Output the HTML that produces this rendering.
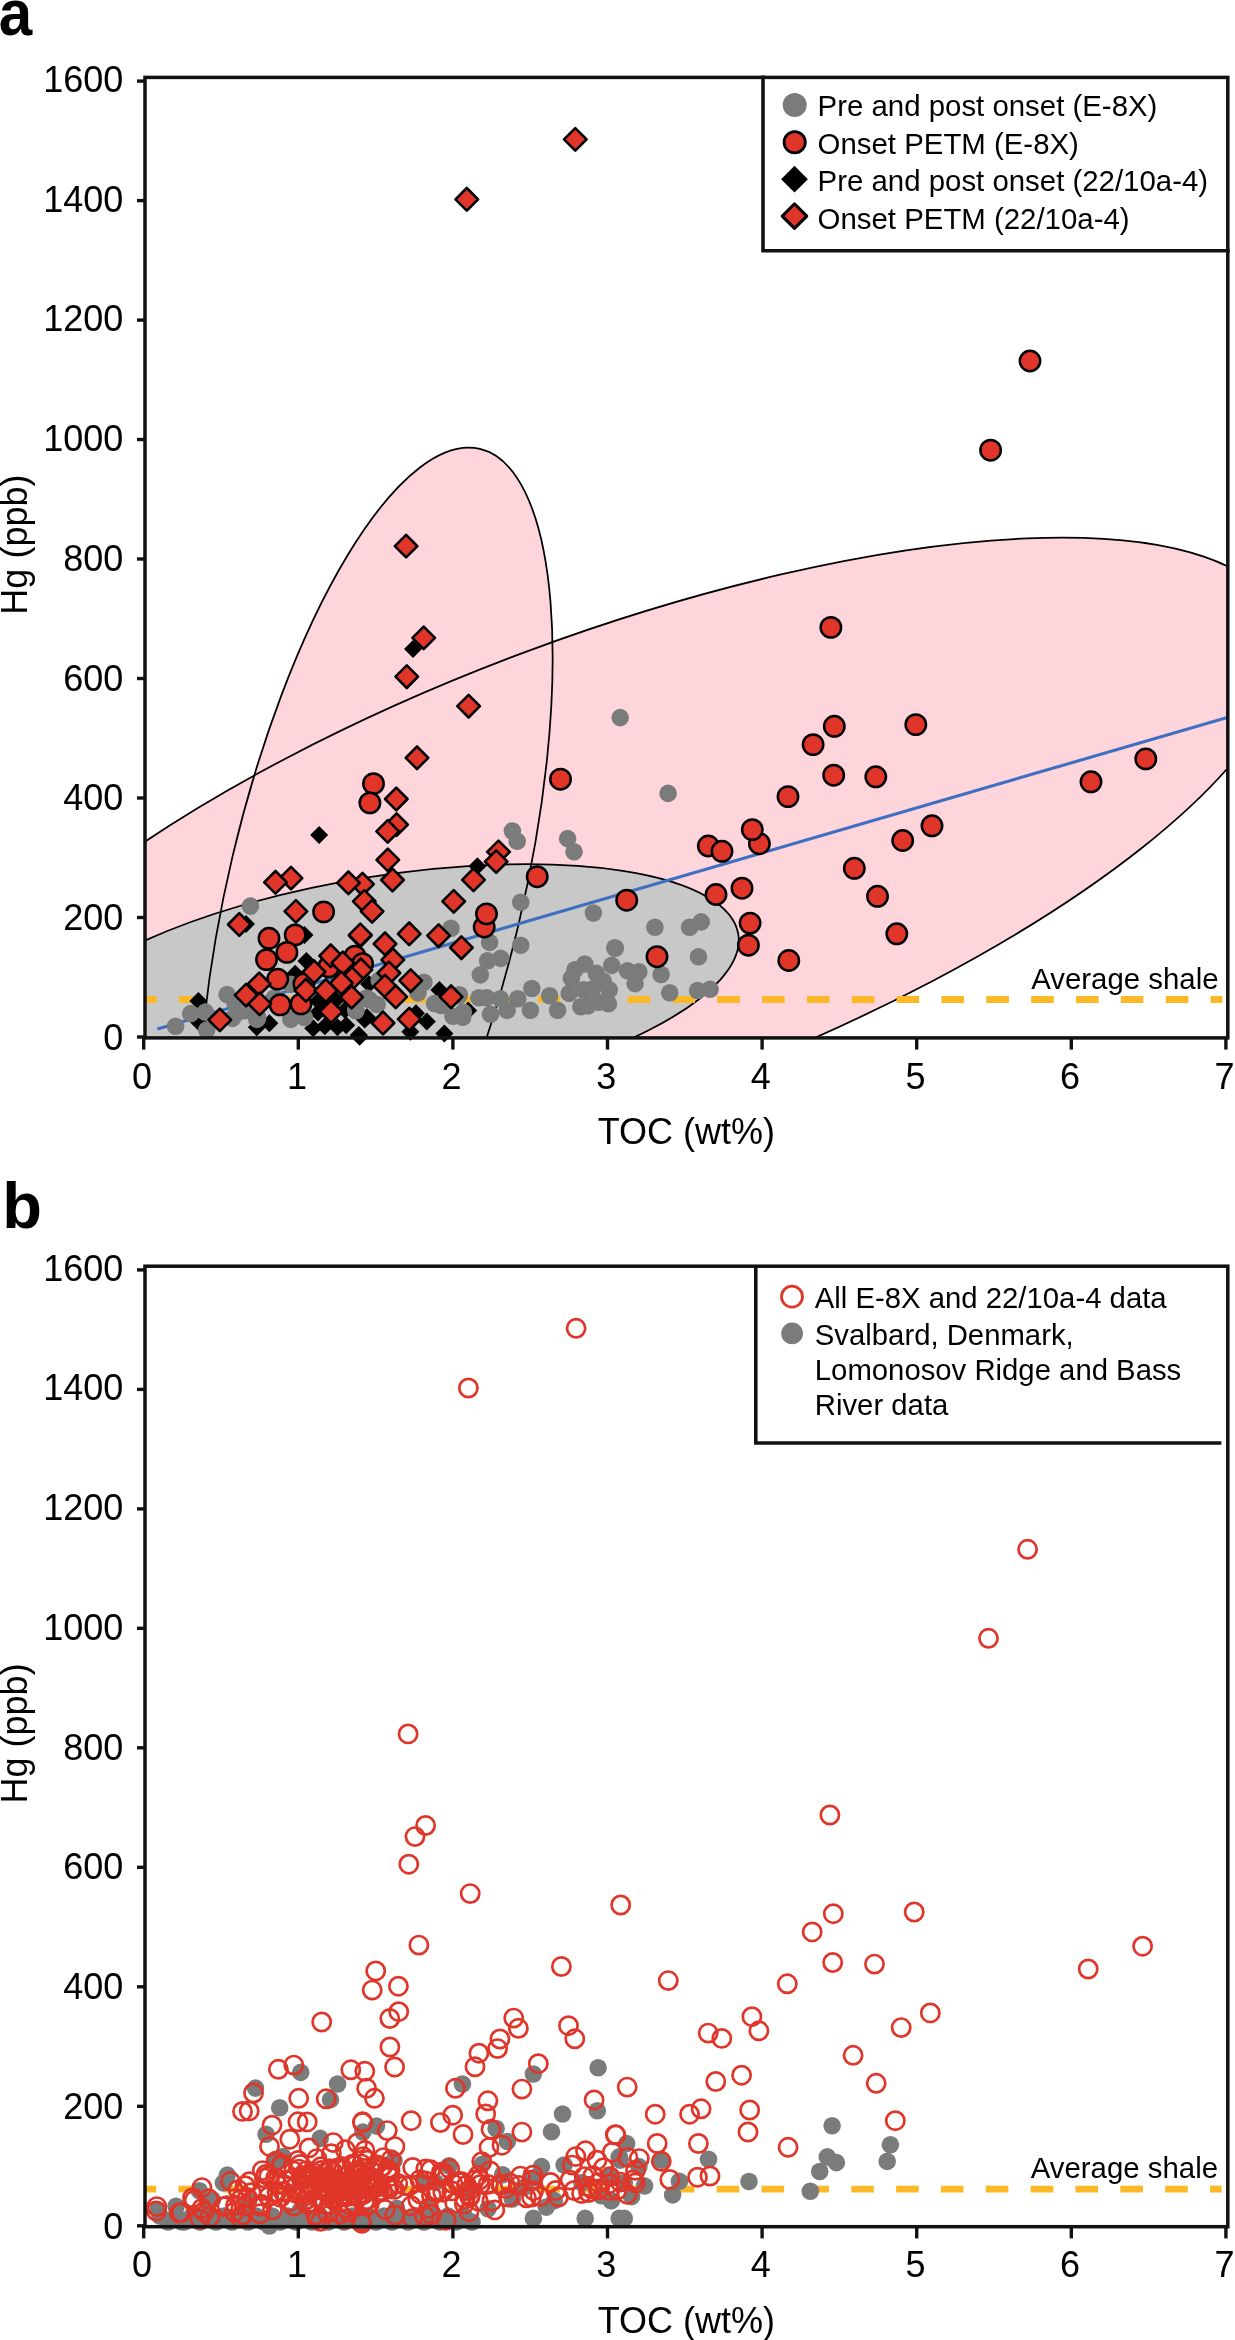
<!DOCTYPE html><html><head><meta charset="utf-8"><style>html,body{margin:0;padding:0;background:#fff;width:1235px;height:2340px;overflow:hidden}svg{display:block}text{font-family:"Liberation Sans",sans-serif}svg{will-change:transform}</style></head><body>
<svg width="1235" height="2340" viewBox="0 0 1235 2340">
<defs>
<clipPath id="ca"><rect x="145" y="77.4" width="1082.8" height="960.5"/></clipPath>
<clipPath id="cb"><rect x="145" y="1266.2" width="1082.8" height="960.5"/></clipPath>
</defs>
<g clip-path="url(#ca)">
<ellipse cx="609.0" cy="869.8" rx="717.6" ry="233.3" transform="rotate(159.62 609.0 869.8)" fill="#ffd5dc"/>
<ellipse cx="375.6" cy="890.2" rx="453.4" ry="147" transform="rotate(-76.7 375.6 890.2)" fill="#ffd5dc"/>
<ellipse cx="387.3" cy="990" rx="355.4" ry="114.3" transform="rotate(171 387.3 990)" fill="#c8c8c8"/>
<ellipse cx="609.0" cy="869.8" rx="717.6" ry="233.3" transform="rotate(159.62 609.0 869.8)" fill="none" stroke="#000" stroke-width="1.75"/>
<ellipse cx="375.6" cy="890.2" rx="453.4" ry="147" transform="rotate(-76.7 375.6 890.2)" fill="none" stroke="#000" stroke-width="1.75"/>
<ellipse cx="387.3" cy="990" rx="355.4" ry="114.3" transform="rotate(171 387.3 990)" fill="none" stroke="#000" stroke-width="1.75"/>
<line x1="134.15" y1="999.5" x2="1222.4" y2="999.5" stroke="#fbb927" stroke-width="6.8" stroke-dasharray="22.6 22.25"/>
<line x1="157.4" y1="1029" x2="1226.4" y2="717.7" stroke="#3f6fc0" stroke-width="3.1"/>
</g>
<text x="1218.6" y="988.5" font-size="29.4" text-anchor="end">Average shale</text>
<path d="M319.1 825.9L328.1 834.9L319.1 843.9L310.1 834.9Z" fill="#000"/>
<path d="M413.0 640.0L422.0 649.0L413.0 658.0L404.0 649.0Z" fill="#000"/>
<path d="M246.0 915.0L255.0 924.0L246.0 933.0L237.0 924.0Z" fill="#000"/>
<path d="M304.5 926.0L313.5 935.0L304.5 944.0L295.5 935.0Z" fill="#000"/>
<path d="M477.4 857.2L486.4 866.2L477.4 875.2L468.4 866.2Z" fill="#000"/>
<path d="M198.4 991.9L207.4 1000.9L198.4 1009.9L189.4 1000.9Z" fill="#000"/>
<path d="M198.4 1012.8L207.4 1021.8L198.4 1030.8L189.4 1021.8Z" fill="#000"/>
<path d="M256.8 1018.2L265.8 1027.2L256.8 1036.2L247.8 1027.2Z" fill="#000"/>
<path d="M306.4 952.1L315.4 961.1L306.4 970.1L297.4 961.1Z" fill="#000"/>
<path d="M295.2 964.7L304.2 973.7L295.2 982.7L286.2 973.7Z" fill="#000"/>
<path d="M269.4 1014.3L278.4 1023.3L269.4 1032.3L260.4 1023.3Z" fill="#000"/>
<path d="M313.2 1019.2L322.2 1028.2L313.2 1037.2L304.2 1028.2Z" fill="#000"/>
<path d="M324.8 1017.2L333.8 1026.2L324.8 1035.2L315.8 1026.2Z" fill="#000"/>
<path d="M346.2 1016.2L355.2 1025.2L346.2 1034.2L337.2 1025.2Z" fill="#000"/>
<path d="M358.8 1026.0L367.8 1035.0L358.8 1044.0L349.8 1035.0Z" fill="#000"/>
<path d="M337.5 1018.2L346.5 1027.2L337.5 1036.2L328.5 1027.2Z" fill="#000"/>
<path d="M364.7 1010.4L373.7 1019.4L364.7 1028.4L355.7 1019.4Z" fill="#000"/>
<path d="M318.0 1003.6L327.0 1012.6L318.0 1021.6L309.0 1012.6Z" fill="#000"/>
<path d="M369.0 975.1L378.0 984.1L369.0 993.1L360.0 984.1Z" fill="#000"/>
<path d="M439.4 981.0L448.4 990.0L439.4 999.0L430.4 990.0Z" fill="#000"/>
<path d="M426.8 1012.6L435.8 1021.6L426.8 1030.6L417.8 1021.6Z" fill="#000"/>
<path d="M410.3 1022.8L419.3 1031.8L410.3 1040.8L401.3 1031.8Z" fill="#000"/>
<path d="M444.4 1024.6L453.4 1033.6L444.4 1042.6L435.4 1033.6Z" fill="#000"/>
<path d="M325.0 995.0L334.0 1004.0L325.0 1013.0L316.0 1004.0Z" fill="#000"/>
<path d="M336.0 991.0L345.0 1000.0L336.0 1009.0L327.0 1000.0Z" fill="#000"/>
<path d="M318.0 992.0L327.0 1001.0L318.0 1010.0L309.0 1001.0Z" fill="#000"/>
<path d="M345.0 1001.0L354.0 1010.0L345.0 1019.0L336.0 1010.0Z" fill="#000"/>
<path d="M359.6 1027.8L368.6 1036.8L359.6 1045.8L350.6 1036.8Z" fill="#000"/>
<path d="M367.0 1008.2L376.0 1017.2L367.0 1026.2L358.0 1017.2Z" fill="#000"/>
<path d="M416.0 1004.3L425.0 1013.3L416.0 1022.3L407.0 1013.3Z" fill="#000"/>
<path d="M468.2 1001.4L477.2 1010.4L468.2 1019.4L459.2 1010.4Z" fill="#000"/>
<circle cx="620.2" cy="717.6" r="8.8" fill="#7a7c7b"/>
<circle cx="668.1" cy="793.4" r="8.8" fill="#7a7c7b"/>
<circle cx="567.6" cy="838.6" r="8.8" fill="#7a7c7b"/>
<circle cx="574.0" cy="851.7" r="8.8" fill="#7a7c7b"/>
<circle cx="593.4" cy="913.0" r="8.8" fill="#7a7c7b"/>
<circle cx="654.9" cy="927.3" r="8.8" fill="#7a7c7b"/>
<circle cx="689.6" cy="927.3" r="8.8" fill="#7a7c7b"/>
<circle cx="701.2" cy="921.9" r="8.8" fill="#7a7c7b"/>
<circle cx="614.8" cy="947.8" r="8.8" fill="#7a7c7b"/>
<circle cx="698.5" cy="956.7" r="8.8" fill="#7a7c7b"/>
<circle cx="669.7" cy="992.8" r="8.8" fill="#7a7c7b"/>
<circle cx="697.6" cy="990.5" r="8.8" fill="#7a7c7b"/>
<circle cx="710.1" cy="989.3" r="8.8" fill="#7a7c7b"/>
<circle cx="661.1" cy="974.5" r="8.8" fill="#7a7c7b"/>
<circle cx="615.3" cy="948.2" r="8.8" fill="#7a7c7b"/>
<circle cx="611.7" cy="965.4" r="8.8" fill="#7a7c7b"/>
<circle cx="627.5" cy="970.7" r="8.8" fill="#7a7c7b"/>
<circle cx="635.1" cy="983.6" r="8.8" fill="#7a7c7b"/>
<circle cx="638.9" cy="971.8" r="8.8" fill="#7a7c7b"/>
<circle cx="584.8" cy="964.0" r="8.8" fill="#7a7c7b"/>
<circle cx="575.0" cy="969.8" r="8.8" fill="#7a7c7b"/>
<circle cx="596.3" cy="973.4" r="8.8" fill="#7a7c7b"/>
<circle cx="571.4" cy="978.3" r="8.8" fill="#7a7c7b"/>
<circle cx="603.0" cy="981.0" r="8.8" fill="#7a7c7b"/>
<circle cx="609.3" cy="989.9" r="8.8" fill="#7a7c7b"/>
<circle cx="569.2" cy="993.4" r="8.8" fill="#7a7c7b"/>
<circle cx="549.6" cy="995.7" r="8.8" fill="#7a7c7b"/>
<circle cx="557.6" cy="1010.3" r="8.8" fill="#7a7c7b"/>
<circle cx="580.8" cy="1006.8" r="8.8" fill="#7a7c7b"/>
<circle cx="587.9" cy="1005.9" r="8.8" fill="#7a7c7b"/>
<circle cx="598.6" cy="1002.3" r="8.8" fill="#7a7c7b"/>
<circle cx="608.4" cy="1003.7" r="8.8" fill="#7a7c7b"/>
<circle cx="531.8" cy="988.5" r="8.8" fill="#7a7c7b"/>
<circle cx="530.4" cy="1010.3" r="8.8" fill="#7a7c7b"/>
<circle cx="583.4" cy="989.9" r="8.8" fill="#7a7c7b"/>
<circle cx="592.3" cy="989.0" r="8.8" fill="#7a7c7b"/>
<circle cx="512.4" cy="831.0" r="8.8" fill="#7a7c7b"/>
<circle cx="517.2" cy="841.2" r="8.8" fill="#7a7c7b"/>
<circle cx="250.4" cy="906.1" r="8.8" fill="#7a7c7b"/>
<circle cx="520.7" cy="902.2" r="8.8" fill="#7a7c7b"/>
<circle cx="451.0" cy="928.3" r="8.8" fill="#7a7c7b"/>
<circle cx="175.6" cy="1026.2" r="8.8" fill="#7a7c7b"/>
<circle cx="235.0" cy="1003.0" r="8.8" fill="#7a7c7b"/>
<circle cx="242.0" cy="999.0" r="8.8" fill="#7a7c7b"/>
<circle cx="248.0" cy="1006.0" r="8.8" fill="#7a7c7b"/>
<circle cx="238.0" cy="1012.0" r="8.8" fill="#7a7c7b"/>
<circle cx="190.7" cy="1013.6" r="8.8" fill="#7a7c7b"/>
<circle cx="205.3" cy="1012.1" r="8.8" fill="#7a7c7b"/>
<circle cx="206.7" cy="1030.1" r="8.8" fill="#7a7c7b"/>
<circle cx="227.1" cy="994.6" r="8.8" fill="#7a7c7b"/>
<circle cx="232.5" cy="1018.4" r="8.8" fill="#7a7c7b"/>
<circle cx="244.1" cy="1010.7" r="8.8" fill="#7a7c7b"/>
<circle cx="256.8" cy="1019.4" r="8.8" fill="#7a7c7b"/>
<circle cx="257.8" cy="1017.5" r="8.8" fill="#7a7c7b"/>
<circle cx="290.8" cy="1019.4" r="8.8" fill="#7a7c7b"/>
<circle cx="304.4" cy="1017.5" r="8.8" fill="#7a7c7b"/>
<circle cx="355.9" cy="1010.7" r="8.8" fill="#7a7c7b"/>
<circle cx="366.6" cy="998.0" r="8.8" fill="#7a7c7b"/>
<circle cx="290.8" cy="984.4" r="8.8" fill="#7a7c7b"/>
<circle cx="274.3" cy="998.0" r="8.8" fill="#7a7c7b"/>
<circle cx="423.9" cy="982.2" r="8.8" fill="#7a7c7b"/>
<circle cx="418.0" cy="992.9" r="8.8" fill="#7a7c7b"/>
<circle cx="434.5" cy="1003.6" r="8.8" fill="#7a7c7b"/>
<circle cx="458.8" cy="995.8" r="8.8" fill="#7a7c7b"/>
<circle cx="453.0" cy="1016.2" r="8.8" fill="#7a7c7b"/>
<circle cx="462.7" cy="1017.2" r="8.8" fill="#7a7c7b"/>
<circle cx="369.4" cy="999.7" r="8.8" fill="#7a7c7b"/>
<circle cx="377.2" cy="1004.5" r="8.8" fill="#7a7c7b"/>
<circle cx="355.8" cy="1009.4" r="8.8" fill="#7a7c7b"/>
<circle cx="379.2" cy="980.3" r="8.8" fill="#7a7c7b"/>
<circle cx="489.6" cy="942.4" r="8.8" fill="#7a7c7b"/>
<circle cx="520.7" cy="945.3" r="8.8" fill="#7a7c7b"/>
<circle cx="487.6" cy="960.8" r="8.8" fill="#7a7c7b"/>
<circle cx="500.7" cy="958.4" r="8.8" fill="#7a7c7b"/>
<circle cx="480.3" cy="974.9" r="8.8" fill="#7a7c7b"/>
<circle cx="459.4" cy="994.8" r="8.8" fill="#7a7c7b"/>
<circle cx="478.9" cy="997.7" r="8.8" fill="#7a7c7b"/>
<circle cx="486.6" cy="997.7" r="8.8" fill="#7a7c7b"/>
<circle cx="500.3" cy="998.7" r="8.8" fill="#7a7c7b"/>
<circle cx="517.7" cy="998.7" r="8.8" fill="#7a7c7b"/>
<circle cx="490.5" cy="1014.3" r="8.8" fill="#7a7c7b"/>
<circle cx="507.1" cy="1010.4" r="8.8" fill="#7a7c7b"/>
<circle cx="463.3" cy="1012.3" r="8.8" fill="#7a7c7b"/>
<circle cx="441.0" cy="1005.5" r="8.8" fill="#7a7c7b"/>
<circle cx="1030.0" cy="361.0" r="10.2" fill="#e0362a" stroke="#000" stroke-width="2.5"/>
<circle cx="990.6" cy="450.2" r="10.2" fill="#e0362a" stroke="#000" stroke-width="2.5"/>
<circle cx="560.5" cy="779.2" r="10.2" fill="#e0362a" stroke="#000" stroke-width="2.5"/>
<circle cx="708.3" cy="846.0" r="10.2" fill="#e0362a" stroke="#000" stroke-width="2.5"/>
<circle cx="722.0" cy="851.3" r="10.2" fill="#e0362a" stroke="#000" stroke-width="2.5"/>
<circle cx="759.4" cy="843.7" r="10.2" fill="#e0362a" stroke="#000" stroke-width="2.5"/>
<circle cx="752.3" cy="829.6" r="10.2" fill="#e0362a" stroke="#000" stroke-width="2.5"/>
<circle cx="626.7" cy="900.2" r="10.2" fill="#e0362a" stroke="#000" stroke-width="2.5"/>
<circle cx="716.0" cy="894.5" r="10.2" fill="#e0362a" stroke="#000" stroke-width="2.5"/>
<circle cx="742.0" cy="888.2" r="10.2" fill="#e0362a" stroke="#000" stroke-width="2.5"/>
<circle cx="830.9" cy="627.4" r="10.2" fill="#e0362a" stroke="#000" stroke-width="2.5"/>
<circle cx="834.3" cy="726.3" r="10.2" fill="#e0362a" stroke="#000" stroke-width="2.5"/>
<circle cx="915.8" cy="724.6" r="10.2" fill="#e0362a" stroke="#000" stroke-width="2.5"/>
<circle cx="813.1" cy="744.6" r="10.2" fill="#e0362a" stroke="#000" stroke-width="2.5"/>
<circle cx="833.7" cy="775.2" r="10.2" fill="#e0362a" stroke="#000" stroke-width="2.5"/>
<circle cx="875.8" cy="776.8" r="10.2" fill="#e0362a" stroke="#000" stroke-width="2.5"/>
<circle cx="788.0" cy="796.6" r="10.2" fill="#e0362a" stroke="#000" stroke-width="2.5"/>
<circle cx="932.0" cy="825.8" r="10.2" fill="#e0362a" stroke="#000" stroke-width="2.5"/>
<circle cx="902.7" cy="840.5" r="10.2" fill="#e0362a" stroke="#000" stroke-width="2.5"/>
<circle cx="854.3" cy="868.3" r="10.2" fill="#e0362a" stroke="#000" stroke-width="2.5"/>
<circle cx="877.5" cy="896.3" r="10.2" fill="#e0362a" stroke="#000" stroke-width="2.5"/>
<circle cx="896.8" cy="933.8" r="10.2" fill="#e0362a" stroke="#000" stroke-width="2.5"/>
<circle cx="750.1" cy="923.1" r="10.2" fill="#e0362a" stroke="#000" stroke-width="2.5"/>
<circle cx="748.4" cy="945.2" r="10.2" fill="#e0362a" stroke="#000" stroke-width="2.5"/>
<circle cx="788.8" cy="960.5" r="10.2" fill="#e0362a" stroke="#000" stroke-width="2.5"/>
<circle cx="1091.0" cy="781.8" r="10.2" fill="#e0362a" stroke="#000" stroke-width="2.5"/>
<circle cx="1145.8" cy="758.9" r="10.2" fill="#e0362a" stroke="#000" stroke-width="2.5"/>
<circle cx="657.0" cy="956.7" r="10.2" fill="#e0362a" stroke="#000" stroke-width="2.5"/>
<circle cx="373.5" cy="783.7" r="10.2" fill="#e0362a" stroke="#000" stroke-width="2.5"/>
<circle cx="369.9" cy="802.9" r="10.2" fill="#e0362a" stroke="#000" stroke-width="2.5"/>
<circle cx="323.6" cy="911.9" r="10.2" fill="#e0362a" stroke="#000" stroke-width="2.5"/>
<circle cx="537.2" cy="876.7" r="10.2" fill="#e0362a" stroke="#000" stroke-width="2.5"/>
<circle cx="484.2" cy="927.0" r="10.2" fill="#e0362a" stroke="#000" stroke-width="2.5"/>
<circle cx="486.5" cy="913.9" r="10.2" fill="#e0362a" stroke="#000" stroke-width="2.5"/>
<circle cx="303.9" cy="983.9" r="10.2" fill="#e0362a" stroke="#000" stroke-width="2.5"/>
<circle cx="269.0" cy="938.3" r="10.2" fill="#e0362a" stroke="#000" stroke-width="2.5"/>
<circle cx="295.2" cy="934.9" r="10.2" fill="#e0362a" stroke="#000" stroke-width="2.5"/>
<circle cx="286.9" cy="952.4" r="10.2" fill="#e0362a" stroke="#000" stroke-width="2.5"/>
<circle cx="266.5" cy="959.6" r="10.2" fill="#e0362a" stroke="#000" stroke-width="2.5"/>
<circle cx="277.7" cy="979.1" r="10.2" fill="#e0362a" stroke="#000" stroke-width="2.5"/>
<circle cx="280.1" cy="1004.8" r="10.2" fill="#e0362a" stroke="#000" stroke-width="2.5"/>
<circle cx="301.0" cy="1003.9" r="10.2" fill="#e0362a" stroke="#000" stroke-width="2.5"/>
<circle cx="328.7" cy="966.9" r="10.2" fill="#e0362a" stroke="#000" stroke-width="2.5"/>
<circle cx="355.0" cy="956.2" r="10.2" fill="#e0362a" stroke="#000" stroke-width="2.5"/>
<circle cx="362.6" cy="963.7" r="10.2" fill="#e0362a" stroke="#000" stroke-width="2.5"/>
<path d="M575.3 128.1L586.6 139.4L575.3 150.7L564.0 139.4Z" fill="#e0362a" stroke="#000" stroke-width="2.6" stroke-linejoin="round"/>
<path d="M466.8 188.0L478.1 199.3L466.8 210.6L455.5 199.3Z" fill="#e0362a" stroke="#000" stroke-width="2.6" stroke-linejoin="round"/>
<path d="M406.1 534.8L417.4 546.1L406.1 557.4L394.8 546.1Z" fill="#e0362a" stroke="#000" stroke-width="2.6" stroke-linejoin="round"/>
<path d="M423.7 626.6L435.0 637.9L423.7 649.2L412.4 637.9Z" fill="#e0362a" stroke="#000" stroke-width="2.6" stroke-linejoin="round"/>
<path d="M406.8 665.4L418.1 676.7L406.8 688.0L395.5 676.7Z" fill="#e0362a" stroke="#000" stroke-width="2.6" stroke-linejoin="round"/>
<path d="M468.6 694.9L479.9 706.2L468.6 717.5L457.3 706.2Z" fill="#e0362a" stroke="#000" stroke-width="2.6" stroke-linejoin="round"/>
<path d="M417.0 746.5L428.3 757.8L417.0 769.1L405.7 757.8Z" fill="#e0362a" stroke="#000" stroke-width="2.6" stroke-linejoin="round"/>
<path d="M396.3 787.7L407.6 799.0L396.3 810.3L385.0 799.0Z" fill="#e0362a" stroke="#000" stroke-width="2.6" stroke-linejoin="round"/>
<path d="M396.6 813.3L407.9 824.6L396.6 835.9L385.3 824.6Z" fill="#e0362a" stroke="#000" stroke-width="2.6" stroke-linejoin="round"/>
<path d="M387.7 820.1L399.0 831.4L387.7 842.7L376.4 831.4Z" fill="#e0362a" stroke="#000" stroke-width="2.6" stroke-linejoin="round"/>
<path d="M498.5 840.6L509.8 851.9L498.5 863.2L487.2 851.9Z" fill="#e0362a" stroke="#000" stroke-width="2.6" stroke-linejoin="round"/>
<path d="M239.3 913.2L250.6 924.5L239.3 935.8L228.0 924.5Z" fill="#e0362a" stroke="#000" stroke-width="2.6" stroke-linejoin="round"/>
<path d="M291.0 866.8L302.3 878.1L291.0 889.4L279.7 878.1Z" fill="#e0362a" stroke="#000" stroke-width="2.6" stroke-linejoin="round"/>
<path d="M275.5 871.0L286.8 882.3L275.5 893.6L264.2 882.3Z" fill="#e0362a" stroke="#000" stroke-width="2.6" stroke-linejoin="round"/>
<path d="M295.9 900.1L307.2 911.4L295.9 922.7L284.6 911.4Z" fill="#e0362a" stroke="#000" stroke-width="2.6" stroke-linejoin="round"/>
<path d="M387.8 848.6L399.1 859.9L387.8 871.2L376.5 859.9Z" fill="#e0362a" stroke="#000" stroke-width="2.6" stroke-linejoin="round"/>
<path d="M392.5 868.7L403.8 880.0L392.5 891.3L381.2 880.0Z" fill="#e0362a" stroke="#000" stroke-width="2.6" stroke-linejoin="round"/>
<path d="M362.5 872.9L373.8 884.2L362.5 895.5L351.2 884.2Z" fill="#e0362a" stroke="#000" stroke-width="2.6" stroke-linejoin="round"/>
<path d="M348.4 871.5L359.7 882.8L348.4 894.1L337.1 882.8Z" fill="#e0362a" stroke="#000" stroke-width="2.6" stroke-linejoin="round"/>
<path d="M364.3 890.1L375.6 901.4L364.3 912.7L353.0 901.4Z" fill="#e0362a" stroke="#000" stroke-width="2.6" stroke-linejoin="round"/>
<path d="M372.1 900.1L383.4 911.4L372.1 922.7L360.8 911.4Z" fill="#e0362a" stroke="#000" stroke-width="2.6" stroke-linejoin="round"/>
<path d="M453.7 890.1L465.0 901.4L453.7 912.7L442.4 901.4Z" fill="#e0362a" stroke="#000" stroke-width="2.6" stroke-linejoin="round"/>
<path d="M360.2 924.4L371.5 935.7L360.2 947.0L348.9 935.7Z" fill="#e0362a" stroke="#000" stroke-width="2.6" stroke-linejoin="round"/>
<path d="M409.2 922.5L420.5 933.8L409.2 945.1L397.9 933.8Z" fill="#e0362a" stroke="#000" stroke-width="2.6" stroke-linejoin="round"/>
<path d="M438.6 924.4L449.9 935.7L438.6 947.0L427.3 935.7Z" fill="#e0362a" stroke="#000" stroke-width="2.6" stroke-linejoin="round"/>
<path d="M496.2 850.3L507.5 861.6L496.2 872.9L484.9 861.6Z" fill="#e0362a" stroke="#000" stroke-width="2.6" stroke-linejoin="round"/>
<path d="M473.5 868.5L484.8 879.8L473.5 891.1L462.2 879.8Z" fill="#e0362a" stroke="#000" stroke-width="2.6" stroke-linejoin="round"/>
<path d="M461.4 936.4L472.7 947.7L461.4 959.0L450.1 947.7Z" fill="#e0362a" stroke="#000" stroke-width="2.6" stroke-linejoin="round"/>
<path d="M219.8 1008.6L231.1 1019.9L219.8 1031.2L208.5 1019.9Z" fill="#e0362a" stroke="#000" stroke-width="2.6" stroke-linejoin="round"/>
<path d="M246.1 983.8L257.4 995.1L246.1 1006.4L234.8 995.1Z" fill="#e0362a" stroke="#000" stroke-width="2.6" stroke-linejoin="round"/>
<path d="M259.2 972.6L270.5 983.9L259.2 995.2L247.9 983.9Z" fill="#e0362a" stroke="#000" stroke-width="2.6" stroke-linejoin="round"/>
<path d="M259.7 992.6L271.0 1003.9L259.7 1015.2L248.4 1003.9Z" fill="#e0362a" stroke="#000" stroke-width="2.6" stroke-linejoin="round"/>
<path d="M360.3 923.6L371.6 934.9L360.3 946.2L349.0 934.9Z" fill="#e0362a" stroke="#000" stroke-width="2.6" stroke-linejoin="round"/>
<path d="M314.1 960.5L325.4 971.8L314.1 983.1L302.8 971.8Z" fill="#e0362a" stroke="#000" stroke-width="2.6" stroke-linejoin="round"/>
<path d="M305.9 979.0L317.2 990.3L305.9 1001.6L294.6 990.3Z" fill="#e0362a" stroke="#000" stroke-width="2.6" stroke-linejoin="round"/>
<path d="M330.7 944.5L342.0 955.8L330.7 967.1L319.4 955.8Z" fill="#e0362a" stroke="#000" stroke-width="2.6" stroke-linejoin="round"/>
<path d="M342.8 951.7L354.1 963.0L342.8 974.3L331.5 963.0Z" fill="#e0362a" stroke="#000" stroke-width="2.6" stroke-linejoin="round"/>
<path d="M360.8 958.5L372.1 969.8L360.8 981.1L349.5 969.8Z" fill="#e0362a" stroke="#000" stroke-width="2.6" stroke-linejoin="round"/>
<path d="M325.8 979.4L337.1 990.7L325.8 1002.0L314.5 990.7Z" fill="#e0362a" stroke="#000" stroke-width="2.6" stroke-linejoin="round"/>
<path d="M352.0 967.3L363.3 978.6L352.0 989.9L340.7 978.6Z" fill="#e0362a" stroke="#000" stroke-width="2.6" stroke-linejoin="round"/>
<path d="M341.4 971.7L352.7 983.0L341.4 994.3L330.1 983.0Z" fill="#e0362a" stroke="#000" stroke-width="2.6" stroke-linejoin="round"/>
<path d="M351.6 985.8L362.9 997.1L351.6 1008.4L340.3 997.1Z" fill="#e0362a" stroke="#000" stroke-width="2.6" stroke-linejoin="round"/>
<path d="M331.1 1000.3L342.4 1011.6L331.1 1022.9L319.8 1011.6Z" fill="#e0362a" stroke="#000" stroke-width="2.6" stroke-linejoin="round"/>
<path d="M385.0 932.5L396.3 943.8L385.0 955.1L373.7 943.8Z" fill="#e0362a" stroke="#000" stroke-width="2.6" stroke-linejoin="round"/>
<path d="M392.8 948.5L404.1 959.8L392.8 971.1L381.5 959.8Z" fill="#e0362a" stroke="#000" stroke-width="2.6" stroke-linejoin="round"/>
<path d="M388.9 961.7L400.2 973.0L388.9 984.3L377.6 973.0Z" fill="#e0362a" stroke="#000" stroke-width="2.6" stroke-linejoin="round"/>
<path d="M410.7 969.4L422.0 980.7L410.7 992.0L399.4 980.7Z" fill="#e0362a" stroke="#000" stroke-width="2.6" stroke-linejoin="round"/>
<path d="M385.0 974.8L396.3 986.1L385.0 997.4L373.7 986.1Z" fill="#e0362a" stroke="#000" stroke-width="2.6" stroke-linejoin="round"/>
<path d="M395.7 985.5L407.0 996.8L395.7 1008.1L384.4 996.8Z" fill="#e0362a" stroke="#000" stroke-width="2.6" stroke-linejoin="round"/>
<path d="M451.1 985.5L462.4 996.8L451.1 1008.1L439.8 996.8Z" fill="#e0362a" stroke="#000" stroke-width="2.6" stroke-linejoin="round"/>
<path d="M409.3 1007.8L420.6 1019.1L409.3 1030.4L398.0 1019.1Z" fill="#e0362a" stroke="#000" stroke-width="2.6" stroke-linejoin="round"/>
<path d="M383.0 1011.7L394.3 1023.0L383.0 1034.3L371.7 1023.0Z" fill="#e0362a" stroke="#000" stroke-width="2.6" stroke-linejoin="round"/>
<line x1="137" y1="1037.0" x2="145" y2="1037.0" stroke="#111" stroke-width="3.4"/>
<text x="123.3" y="1050.0" font-size="36" text-anchor="end">0</text>
<line x1="137" y1="917.5" x2="145" y2="917.5" stroke="#111" stroke-width="3.4"/>
<text x="123.3" y="930.2" font-size="36" text-anchor="end">200</text>
<line x1="137" y1="798.0" x2="145" y2="798.0" stroke="#111" stroke-width="3.4"/>
<text x="123.3" y="810.4" font-size="36" text-anchor="end">400</text>
<line x1="137" y1="678.5" x2="145" y2="678.5" stroke="#111" stroke-width="3.4"/>
<text x="123.3" y="690.6" font-size="36" text-anchor="end">600</text>
<line x1="137" y1="559.0" x2="145" y2="559.0" stroke="#111" stroke-width="3.4"/>
<text x="123.3" y="570.8" font-size="36" text-anchor="end">800</text>
<line x1="137" y1="439.5" x2="145" y2="439.5" stroke="#111" stroke-width="3.4"/>
<text x="123.3" y="451.0" font-size="36" text-anchor="end">1000</text>
<line x1="137" y1="320.1" x2="145" y2="320.1" stroke="#111" stroke-width="3.4"/>
<text x="123.3" y="331.3" font-size="36" text-anchor="end">1200</text>
<line x1="137" y1="200.6" x2="145" y2="200.6" stroke="#111" stroke-width="3.4"/>
<text x="123.3" y="211.5" font-size="36" text-anchor="end">1400</text>
<line x1="137" y1="81.1" x2="145" y2="81.1" stroke="#111" stroke-width="3.4"/>
<text x="123.3" y="91.7" font-size="36" text-anchor="end">1600</text>
<line x1="143.7" y1="1037.9" x2="143.7" y2="1049.6" stroke="#111" stroke-width="3.4"/>
<text x="141.9" y="1088.6" font-size="36" text-anchor="middle">0</text>
<line x1="298.3" y1="1037.9" x2="298.3" y2="1049.6" stroke="#111" stroke-width="3.4"/>
<text x="297.0" y="1088.6" font-size="36" text-anchor="middle">1</text>
<line x1="452.9" y1="1037.9" x2="452.9" y2="1049.6" stroke="#111" stroke-width="3.4"/>
<text x="451.6" y="1088.6" font-size="36" text-anchor="middle">2</text>
<line x1="607.5" y1="1037.9" x2="607.5" y2="1049.6" stroke="#111" stroke-width="3.4"/>
<text x="606.2" y="1088.6" font-size="36" text-anchor="middle">3</text>
<line x1="762.1" y1="1037.9" x2="762.1" y2="1049.6" stroke="#111" stroke-width="3.4"/>
<text x="760.8" y="1088.6" font-size="36" text-anchor="middle">4</text>
<line x1="916.7" y1="1037.9" x2="916.7" y2="1049.6" stroke="#111" stroke-width="3.4"/>
<text x="915.4" y="1088.6" font-size="36" text-anchor="middle">5</text>
<line x1="1071.3" y1="1037.9" x2="1071.3" y2="1049.6" stroke="#111" stroke-width="3.4"/>
<text x="1070.0" y="1088.6" font-size="36" text-anchor="middle">6</text>
<line x1="1225.9" y1="1037.9" x2="1225.9" y2="1049.6" stroke="#111" stroke-width="3.4"/>
<text x="1224.6" y="1088.6" font-size="36" text-anchor="middle">7</text>
<text x="686.4" y="1143.7" font-size="36" text-anchor="middle">TOC (wt%)</text>
<text transform="translate(27,544.6) rotate(-90)" font-size="36" text-anchor="middle">Hg (ppb)</text>
<rect x="763" y="77.4" width="464.8" height="173.4" fill="#fff"/>
<path d="M763 77.4V250.8H1227.8" fill="none" stroke="#111" stroke-width="3.6" stroke-linecap="square"/>
<circle cx="794.7" cy="105.1" r="12" fill="#7a7c7b"/>
<circle cx="794.7" cy="142.2" r="10.6" fill="#e0362a" stroke="#000" stroke-width="2.8"/>
<path d="M794.5 165.8L807.9 179.2L794.5 192.6L781.1 179.2Z" fill="#000"/>
<path d="M794.5 203.8L806.8 216.1L794.5 228.4L782.2 216.1Z" fill="#e0362a" stroke="#000" stroke-width="3" stroke-linejoin="round"/>
<text x="817.6" y="116.0" font-size="29.4">Pre and post onset (E-8X)</text>
<text x="817.6" y="153.5" font-size="29.4">Onset PETM (E-8X)</text>
<text x="817.6" y="191.0" font-size="29.4">Pre and post onset (22/10a-4)</text>
<text x="817.6" y="228.5" font-size="29.4">Onset PETM (22/10a-4)</text>
<rect x="145" y="77.4" width="1082.8" height="960.5" fill="none" stroke="#111" stroke-width="3.5"/>
<text transform="translate(-1.2,34.6) scale(0.925,1.01)" font-size="65" font-weight="bold">a</text>
<g clip-path="url(#cb)">
<line x1="133.65" y1="2189.1" x2="1221.6" y2="2189.1" stroke="#fbb927" stroke-width="6.8" stroke-dasharray="22.6 22.25"/>
</g>
<text x="1218.1" y="2178" font-size="29.4" text-anchor="end">Average shale</text>
<circle cx="462.4" cy="2084.0" r="8.8" fill="#7a7c7b"/>
<circle cx="533.4" cy="2074.0" r="8.8" fill="#7a7c7b"/>
<circle cx="598.1" cy="2067.8" r="8.8" fill="#7a7c7b"/>
<circle cx="562.5" cy="2114.0" r="8.8" fill="#7a7c7b"/>
<circle cx="597.3" cy="2110.7" r="8.8" fill="#7a7c7b"/>
<circle cx="551.5" cy="2131.8" r="8.8" fill="#7a7c7b"/>
<circle cx="496.1" cy="2128.5" r="8.8" fill="#7a7c7b"/>
<circle cx="507.4" cy="2141.5" r="8.8" fill="#7a7c7b"/>
<circle cx="449.1" cy="2165.8" r="8.8" fill="#7a7c7b"/>
<circle cx="482.3" cy="2164.2" r="8.8" fill="#7a7c7b"/>
<circle cx="502.6" cy="2174.7" r="8.8" fill="#7a7c7b"/>
<circle cx="541.5" cy="2166.6" r="8.8" fill="#7a7c7b"/>
<circle cx="564.1" cy="2165.0" r="8.8" fill="#7a7c7b"/>
<circle cx="533.4" cy="2178.0" r="8.8" fill="#7a7c7b"/>
<circle cx="488.0" cy="2208.7" r="8.8" fill="#7a7c7b"/>
<circle cx="533.4" cy="2218.4" r="8.8" fill="#7a7c7b"/>
<circle cx="546.3" cy="2207.1" r="8.8" fill="#7a7c7b"/>
<circle cx="585.2" cy="2218.4" r="8.8" fill="#7a7c7b"/>
<circle cx="619.2" cy="2218.4" r="8.8" fill="#7a7c7b"/>
<circle cx="512.3" cy="2199.0" r="8.8" fill="#7a7c7b"/>
<circle cx="554.4" cy="2200.6" r="8.8" fill="#7a7c7b"/>
<circle cx="611.1" cy="2200.6" r="8.8" fill="#7a7c7b"/>
<circle cx="601.4" cy="2195.7" r="8.8" fill="#7a7c7b"/>
<circle cx="429.7" cy="2210.3" r="8.8" fill="#7a7c7b"/>
<circle cx="445.9" cy="2218.4" r="8.8" fill="#7a7c7b"/>
<circle cx="424.9" cy="2182.8" r="8.8" fill="#7a7c7b"/>
<circle cx="467.0" cy="2192.5" r="8.8" fill="#7a7c7b"/>
<circle cx="523.6" cy="2187.6" r="8.8" fill="#7a7c7b"/>
<circle cx="581.9" cy="2182.8" r="8.8" fill="#7a7c7b"/>
<circle cx="619.2" cy="2156.9" r="8.8" fill="#7a7c7b"/>
<circle cx="626.7" cy="2143.6" r="8.8" fill="#7a7c7b"/>
<circle cx="620.2" cy="2160.1" r="8.8" fill="#7a7c7b"/>
<circle cx="638.9" cy="2166.6" r="8.8" fill="#7a7c7b"/>
<circle cx="661.5" cy="2160.1" r="8.8" fill="#7a7c7b"/>
<circle cx="708.5" cy="2159.3" r="8.8" fill="#7a7c7b"/>
<circle cx="679.4" cy="2181.2" r="8.8" fill="#7a7c7b"/>
<circle cx="672.6" cy="2194.9" r="8.8" fill="#7a7c7b"/>
<circle cx="749.0" cy="2181.5" r="8.8" fill="#7a7c7b"/>
<circle cx="644.5" cy="2186.0" r="8.8" fill="#7a7c7b"/>
<circle cx="631.6" cy="2196.6" r="8.8" fill="#7a7c7b"/>
<circle cx="624.3" cy="2182.8" r="8.8" fill="#7a7c7b"/>
<circle cx="611.3" cy="2200.6" r="8.8" fill="#7a7c7b"/>
<circle cx="624.3" cy="2218.4" r="8.8" fill="#7a7c7b"/>
<circle cx="609.7" cy="2176.3" r="8.8" fill="#7a7c7b"/>
<circle cx="832.1" cy="2125.8" r="8.8" fill="#7a7c7b"/>
<circle cx="827.3" cy="2156.9" r="8.8" fill="#7a7c7b"/>
<circle cx="836.4" cy="2162.6" r="8.8" fill="#7a7c7b"/>
<circle cx="819.7" cy="2171.5" r="8.8" fill="#7a7c7b"/>
<circle cx="810.3" cy="2191.2" r="8.8" fill="#7a7c7b"/>
<circle cx="890.4" cy="2144.7" r="8.8" fill="#7a7c7b"/>
<circle cx="887.2" cy="2161.4" r="8.8" fill="#7a7c7b"/>
<circle cx="279.7" cy="2107.8" r="8.8" fill="#7a7c7b"/>
<circle cx="266.1" cy="2134.3" r="8.8" fill="#7a7c7b"/>
<circle cx="275.8" cy="2159.6" r="8.8" fill="#7a7c7b"/>
<circle cx="282.3" cy="2159.6" r="8.8" fill="#7a7c7b"/>
<circle cx="227.3" cy="2175.1" r="8.8" fill="#7a7c7b"/>
<circle cx="223.4" cy="2182.9" r="8.8" fill="#7a7c7b"/>
<circle cx="199.4" cy="2190.7" r="8.8" fill="#7a7c7b"/>
<circle cx="176.1" cy="2206.2" r="8.8" fill="#7a7c7b"/>
<circle cx="158.0" cy="2210.1" r="8.8" fill="#7a7c7b"/>
<circle cx="181.3" cy="2221.8" r="8.8" fill="#7a7c7b"/>
<circle cx="194.2" cy="2216.6" r="8.8" fill="#7a7c7b"/>
<circle cx="207.2" cy="2210.1" r="8.8" fill="#7a7c7b"/>
<circle cx="212.4" cy="2199.7" r="8.8" fill="#7a7c7b"/>
<circle cx="225.3" cy="2216.6" r="8.8" fill="#7a7c7b"/>
<circle cx="244.7" cy="2216.6" r="8.8" fill="#7a7c7b"/>
<circle cx="248.6" cy="2201.0" r="8.8" fill="#7a7c7b"/>
<circle cx="271.9" cy="2216.6" r="8.8" fill="#7a7c7b"/>
<circle cx="269.4" cy="2226.0" r="8.8" fill="#7a7c7b"/>
<circle cx="287.5" cy="2219.2" r="8.8" fill="#7a7c7b"/>
<circle cx="300.4" cy="2210.1" r="8.8" fill="#7a7c7b"/>
<circle cx="300.7" cy="2072.4" r="8.8" fill="#7a7c7b"/>
<circle cx="337.6" cy="2084.0" r="8.8" fill="#7a7c7b"/>
<circle cx="330.5" cy="2099.6" r="8.8" fill="#7a7c7b"/>
<circle cx="255.5" cy="2088.1" r="8.8" fill="#7a7c7b"/>
<circle cx="362.9" cy="2132.0" r="8.8" fill="#7a7c7b"/>
<circle cx="376.5" cy="2126.1" r="8.8" fill="#7a7c7b"/>
<circle cx="320.2" cy="2138.4" r="8.8" fill="#7a7c7b"/>
<circle cx="283.0" cy="2156.6" r="8.8" fill="#7a7c7b"/>
<circle cx="394.0" cy="2160.5" r="8.8" fill="#7a7c7b"/>
<circle cx="435.4" cy="2182.5" r="8.8" fill="#7a7c7b"/>
<circle cx="429.0" cy="2208.4" r="8.8" fill="#7a7c7b"/>
<circle cx="362.9" cy="2218.8" r="8.8" fill="#7a7c7b"/>
<circle cx="396.6" cy="2208.4" r="8.8" fill="#7a7c7b"/>
<circle cx="160.0" cy="2216.0" r="8.8" fill="#7a7c7b"/>
<circle cx="168.0" cy="2222.0" r="8.8" fill="#7a7c7b"/>
<circle cx="176.0" cy="2216.0" r="8.8" fill="#7a7c7b"/>
<circle cx="184.0" cy="2222.0" r="8.8" fill="#7a7c7b"/>
<circle cx="192.0" cy="2216.0" r="8.8" fill="#7a7c7b"/>
<circle cx="200.0" cy="2222.0" r="8.8" fill="#7a7c7b"/>
<circle cx="208.0" cy="2216.0" r="8.8" fill="#7a7c7b"/>
<circle cx="216.0" cy="2222.0" r="8.8" fill="#7a7c7b"/>
<circle cx="224.0" cy="2216.0" r="8.8" fill="#7a7c7b"/>
<circle cx="232.0" cy="2222.0" r="8.8" fill="#7a7c7b"/>
<circle cx="240.0" cy="2216.0" r="8.8" fill="#7a7c7b"/>
<circle cx="248.0" cy="2222.0" r="8.8" fill="#7a7c7b"/>
<circle cx="256.0" cy="2216.0" r="8.8" fill="#7a7c7b"/>
<circle cx="264.0" cy="2222.0" r="8.8" fill="#7a7c7b"/>
<circle cx="272.0" cy="2216.0" r="8.8" fill="#7a7c7b"/>
<circle cx="280.0" cy="2222.0" r="8.8" fill="#7a7c7b"/>
<circle cx="288.0" cy="2216.0" r="8.8" fill="#7a7c7b"/>
<circle cx="296.0" cy="2222.0" r="8.8" fill="#7a7c7b"/>
<circle cx="304.0" cy="2216.0" r="8.8" fill="#7a7c7b"/>
<circle cx="312.0" cy="2222.0" r="8.8" fill="#7a7c7b"/>
<circle cx="320.0" cy="2216.0" r="8.8" fill="#7a7c7b"/>
<circle cx="328.0" cy="2222.0" r="8.8" fill="#7a7c7b"/>
<circle cx="336.0" cy="2216.0" r="8.8" fill="#7a7c7b"/>
<circle cx="344.0" cy="2222.0" r="8.8" fill="#7a7c7b"/>
<circle cx="352.0" cy="2216.0" r="8.8" fill="#7a7c7b"/>
<circle cx="360.0" cy="2222.0" r="8.8" fill="#7a7c7b"/>
<circle cx="368.0" cy="2216.0" r="8.8" fill="#7a7c7b"/>
<circle cx="376.0" cy="2222.0" r="8.8" fill="#7a7c7b"/>
<circle cx="384.0" cy="2216.0" r="8.8" fill="#7a7c7b"/>
<circle cx="392.0" cy="2222.0" r="8.8" fill="#7a7c7b"/>
<circle cx="400.0" cy="2216.0" r="8.8" fill="#7a7c7b"/>
<circle cx="408.0" cy="2222.0" r="8.8" fill="#7a7c7b"/>
<circle cx="416.0" cy="2216.0" r="8.8" fill="#7a7c7b"/>
<circle cx="424.0" cy="2222.0" r="8.8" fill="#7a7c7b"/>
<circle cx="432.0" cy="2216.0" r="8.8" fill="#7a7c7b"/>
<circle cx="440.0" cy="2222.0" r="8.8" fill="#7a7c7b"/>
<circle cx="448.0" cy="2216.0" r="8.8" fill="#7a7c7b"/>
<circle cx="456.0" cy="2222.0" r="8.8" fill="#7a7c7b"/>
<circle cx="464.0" cy="2216.0" r="8.8" fill="#7a7c7b"/>
<circle cx="472.0" cy="2222.0" r="8.8" fill="#7a7c7b"/>
<circle cx="321.7" cy="2022.0" r="9.1" fill="none" stroke="#e0362a" stroke-width="2.7"/>
<circle cx="415.0" cy="1836.6" r="9.1" fill="none" stroke="#e0362a" stroke-width="2.7"/>
<circle cx="249.2" cy="2110.9" r="9.1" fill="none" stroke="#e0362a" stroke-width="2.7"/>
<circle cx="307.2" cy="2121.9" r="9.1" fill="none" stroke="#e0362a" stroke-width="2.7"/>
<circle cx="478.9" cy="2053.2" r="9.1" fill="none" stroke="#e0362a" stroke-width="2.7"/>
<circle cx="201.9" cy="2187.6" r="9.1" fill="none" stroke="#e0362a" stroke-width="2.7"/>
<circle cx="201.9" cy="2208.4" r="9.1" fill="none" stroke="#e0362a" stroke-width="2.7"/>
<circle cx="259.9" cy="2213.8" r="9.1" fill="none" stroke="#e0362a" stroke-width="2.7"/>
<circle cx="309.1" cy="2147.9" r="9.1" fill="none" stroke="#e0362a" stroke-width="2.7"/>
<circle cx="298.0" cy="2160.5" r="9.1" fill="none" stroke="#e0362a" stroke-width="2.7"/>
<circle cx="272.4" cy="2209.9" r="9.1" fill="none" stroke="#e0362a" stroke-width="2.7"/>
<circle cx="315.9" cy="2214.8" r="9.1" fill="none" stroke="#e0362a" stroke-width="2.7"/>
<circle cx="327.4" cy="2212.8" r="9.1" fill="none" stroke="#e0362a" stroke-width="2.7"/>
<circle cx="348.6" cy="2211.8" r="9.1" fill="none" stroke="#e0362a" stroke-width="2.7"/>
<circle cx="361.2" cy="2221.6" r="9.1" fill="none" stroke="#e0362a" stroke-width="2.7"/>
<circle cx="340.0" cy="2213.8" r="9.1" fill="none" stroke="#e0362a" stroke-width="2.7"/>
<circle cx="367.0" cy="2206.1" r="9.1" fill="none" stroke="#e0362a" stroke-width="2.7"/>
<circle cx="320.6" cy="2199.3" r="9.1" fill="none" stroke="#e0362a" stroke-width="2.7"/>
<circle cx="371.3" cy="2170.8" r="9.1" fill="none" stroke="#e0362a" stroke-width="2.7"/>
<circle cx="441.2" cy="2176.7" r="9.1" fill="none" stroke="#e0362a" stroke-width="2.7"/>
<circle cx="428.7" cy="2208.2" r="9.1" fill="none" stroke="#e0362a" stroke-width="2.7"/>
<circle cx="412.3" cy="2218.4" r="9.1" fill="none" stroke="#e0362a" stroke-width="2.7"/>
<circle cx="446.1" cy="2220.2" r="9.1" fill="none" stroke="#e0362a" stroke-width="2.7"/>
<circle cx="327.6" cy="2190.7" r="9.1" fill="none" stroke="#e0362a" stroke-width="2.7"/>
<circle cx="338.5" cy="2186.7" r="9.1" fill="none" stroke="#e0362a" stroke-width="2.7"/>
<circle cx="320.6" cy="2187.7" r="9.1" fill="none" stroke="#e0362a" stroke-width="2.7"/>
<circle cx="347.5" cy="2196.7" r="9.1" fill="none" stroke="#e0362a" stroke-width="2.7"/>
<circle cx="361.9" cy="2223.4" r="9.1" fill="none" stroke="#e0362a" stroke-width="2.7"/>
<circle cx="369.3" cy="2203.9" r="9.1" fill="none" stroke="#e0362a" stroke-width="2.7"/>
<circle cx="417.9" cy="2200.0" r="9.1" fill="none" stroke="#e0362a" stroke-width="2.7"/>
<circle cx="469.8" cy="2197.1" r="9.1" fill="none" stroke="#e0362a" stroke-width="2.7"/>
<circle cx="620.7" cy="1905.0" r="9.1" fill="none" stroke="#e0362a" stroke-width="2.7"/>
<circle cx="668.3" cy="1980.6" r="9.1" fill="none" stroke="#e0362a" stroke-width="2.7"/>
<circle cx="568.5" cy="2025.7" r="9.1" fill="none" stroke="#e0362a" stroke-width="2.7"/>
<circle cx="574.8" cy="2038.8" r="9.1" fill="none" stroke="#e0362a" stroke-width="2.7"/>
<circle cx="594.1" cy="2099.9" r="9.1" fill="none" stroke="#e0362a" stroke-width="2.7"/>
<circle cx="655.2" cy="2114.2" r="9.1" fill="none" stroke="#e0362a" stroke-width="2.7"/>
<circle cx="689.6" cy="2114.2" r="9.1" fill="none" stroke="#e0362a" stroke-width="2.7"/>
<circle cx="701.1" cy="2108.8" r="9.1" fill="none" stroke="#e0362a" stroke-width="2.7"/>
<circle cx="615.3" cy="2134.6" r="9.1" fill="none" stroke="#e0362a" stroke-width="2.7"/>
<circle cx="698.4" cy="2143.5" r="9.1" fill="none" stroke="#e0362a" stroke-width="2.7"/>
<circle cx="669.8" cy="2179.5" r="9.1" fill="none" stroke="#e0362a" stroke-width="2.7"/>
<circle cx="697.5" cy="2177.2" r="9.1" fill="none" stroke="#e0362a" stroke-width="2.7"/>
<circle cx="710.0" cy="2176.0" r="9.1" fill="none" stroke="#e0362a" stroke-width="2.7"/>
<circle cx="661.3" cy="2161.3" r="9.1" fill="none" stroke="#e0362a" stroke-width="2.7"/>
<circle cx="615.8" cy="2135.0" r="9.1" fill="none" stroke="#e0362a" stroke-width="2.7"/>
<circle cx="612.3" cy="2152.2" r="9.1" fill="none" stroke="#e0362a" stroke-width="2.7"/>
<circle cx="627.9" cy="2157.5" r="9.1" fill="none" stroke="#e0362a" stroke-width="2.7"/>
<circle cx="635.5" cy="2170.3" r="9.1" fill="none" stroke="#e0362a" stroke-width="2.7"/>
<circle cx="639.3" cy="2158.6" r="9.1" fill="none" stroke="#e0362a" stroke-width="2.7"/>
<circle cx="585.5" cy="2150.8" r="9.1" fill="none" stroke="#e0362a" stroke-width="2.7"/>
<circle cx="575.8" cy="2156.6" r="9.1" fill="none" stroke="#e0362a" stroke-width="2.7"/>
<circle cx="597.0" cy="2160.2" r="9.1" fill="none" stroke="#e0362a" stroke-width="2.7"/>
<circle cx="572.2" cy="2165.1" r="9.1" fill="none" stroke="#e0362a" stroke-width="2.7"/>
<circle cx="603.6" cy="2167.7" r="9.1" fill="none" stroke="#e0362a" stroke-width="2.7"/>
<circle cx="609.9" cy="2176.6" r="9.1" fill="none" stroke="#e0362a" stroke-width="2.7"/>
<circle cx="570.1" cy="2180.1" r="9.1" fill="none" stroke="#e0362a" stroke-width="2.7"/>
<circle cx="550.6" cy="2182.4" r="9.1" fill="none" stroke="#e0362a" stroke-width="2.7"/>
<circle cx="558.5" cy="2197.0" r="9.1" fill="none" stroke="#e0362a" stroke-width="2.7"/>
<circle cx="581.6" cy="2193.5" r="9.1" fill="none" stroke="#e0362a" stroke-width="2.7"/>
<circle cx="588.6" cy="2192.6" r="9.1" fill="none" stroke="#e0362a" stroke-width="2.7"/>
<circle cx="599.2" cy="2189.0" r="9.1" fill="none" stroke="#e0362a" stroke-width="2.7"/>
<circle cx="609.0" cy="2190.4" r="9.1" fill="none" stroke="#e0362a" stroke-width="2.7"/>
<circle cx="532.9" cy="2175.2" r="9.1" fill="none" stroke="#e0362a" stroke-width="2.7"/>
<circle cx="531.5" cy="2197.0" r="9.1" fill="none" stroke="#e0362a" stroke-width="2.7"/>
<circle cx="584.2" cy="2176.6" r="9.1" fill="none" stroke="#e0362a" stroke-width="2.7"/>
<circle cx="593.0" cy="2175.7" r="9.1" fill="none" stroke="#e0362a" stroke-width="2.7"/>
<circle cx="513.7" cy="2018.1" r="9.1" fill="none" stroke="#e0362a" stroke-width="2.7"/>
<circle cx="518.4" cy="2028.3" r="9.1" fill="none" stroke="#e0362a" stroke-width="2.7"/>
<circle cx="253.5" cy="2093.0" r="9.1" fill="none" stroke="#e0362a" stroke-width="2.7"/>
<circle cx="521.9" cy="2089.1" r="9.1" fill="none" stroke="#e0362a" stroke-width="2.7"/>
<circle cx="452.7" cy="2115.2" r="9.1" fill="none" stroke="#e0362a" stroke-width="2.7"/>
<circle cx="179.3" cy="2212.8" r="9.1" fill="none" stroke="#e0362a" stroke-width="2.7"/>
<circle cx="238.2" cy="2189.7" r="9.1" fill="none" stroke="#e0362a" stroke-width="2.7"/>
<circle cx="245.2" cy="2185.7" r="9.1" fill="none" stroke="#e0362a" stroke-width="2.7"/>
<circle cx="251.1" cy="2192.7" r="9.1" fill="none" stroke="#e0362a" stroke-width="2.7"/>
<circle cx="241.2" cy="2198.7" r="9.1" fill="none" stroke="#e0362a" stroke-width="2.7"/>
<circle cx="194.2" cy="2200.3" r="9.1" fill="none" stroke="#e0362a" stroke-width="2.7"/>
<circle cx="208.7" cy="2198.8" r="9.1" fill="none" stroke="#e0362a" stroke-width="2.7"/>
<circle cx="210.1" cy="2216.7" r="9.1" fill="none" stroke="#e0362a" stroke-width="2.7"/>
<circle cx="230.4" cy="2181.3" r="9.1" fill="none" stroke="#e0362a" stroke-width="2.7"/>
<circle cx="235.7" cy="2205.1" r="9.1" fill="none" stroke="#e0362a" stroke-width="2.7"/>
<circle cx="247.3" cy="2197.4" r="9.1" fill="none" stroke="#e0362a" stroke-width="2.7"/>
<circle cx="259.9" cy="2206.1" r="9.1" fill="none" stroke="#e0362a" stroke-width="2.7"/>
<circle cx="260.9" cy="2204.2" r="9.1" fill="none" stroke="#e0362a" stroke-width="2.7"/>
<circle cx="293.6" cy="2206.1" r="9.1" fill="none" stroke="#e0362a" stroke-width="2.7"/>
<circle cx="307.1" cy="2204.2" r="9.1" fill="none" stroke="#e0362a" stroke-width="2.7"/>
<circle cx="358.3" cy="2197.4" r="9.1" fill="none" stroke="#e0362a" stroke-width="2.7"/>
<circle cx="368.9" cy="2184.7" r="9.1" fill="none" stroke="#e0362a" stroke-width="2.7"/>
<circle cx="293.6" cy="2171.1" r="9.1" fill="none" stroke="#e0362a" stroke-width="2.7"/>
<circle cx="277.3" cy="2184.7" r="9.1" fill="none" stroke="#e0362a" stroke-width="2.7"/>
<circle cx="425.8" cy="2168.9" r="9.1" fill="none" stroke="#e0362a" stroke-width="2.7"/>
<circle cx="419.9" cy="2179.6" r="9.1" fill="none" stroke="#e0362a" stroke-width="2.7"/>
<circle cx="436.3" cy="2190.3" r="9.1" fill="none" stroke="#e0362a" stroke-width="2.7"/>
<circle cx="460.4" cy="2182.5" r="9.1" fill="none" stroke="#e0362a" stroke-width="2.7"/>
<circle cx="454.7" cy="2202.9" r="9.1" fill="none" stroke="#e0362a" stroke-width="2.7"/>
<circle cx="464.3" cy="2203.9" r="9.1" fill="none" stroke="#e0362a" stroke-width="2.7"/>
<circle cx="371.7" cy="2186.4" r="9.1" fill="none" stroke="#e0362a" stroke-width="2.7"/>
<circle cx="379.4" cy="2191.2" r="9.1" fill="none" stroke="#e0362a" stroke-width="2.7"/>
<circle cx="358.2" cy="2196.1" r="9.1" fill="none" stroke="#e0362a" stroke-width="2.7"/>
<circle cx="381.4" cy="2167.0" r="9.1" fill="none" stroke="#e0362a" stroke-width="2.7"/>
<circle cx="491.0" cy="2129.2" r="9.1" fill="none" stroke="#e0362a" stroke-width="2.7"/>
<circle cx="521.9" cy="2132.1" r="9.1" fill="none" stroke="#e0362a" stroke-width="2.7"/>
<circle cx="489.0" cy="2147.6" r="9.1" fill="none" stroke="#e0362a" stroke-width="2.7"/>
<circle cx="502.0" cy="2145.2" r="9.1" fill="none" stroke="#e0362a" stroke-width="2.7"/>
<circle cx="481.8" cy="2161.7" r="9.1" fill="none" stroke="#e0362a" stroke-width="2.7"/>
<circle cx="461.0" cy="2181.5" r="9.1" fill="none" stroke="#e0362a" stroke-width="2.7"/>
<circle cx="480.4" cy="2184.4" r="9.1" fill="none" stroke="#e0362a" stroke-width="2.7"/>
<circle cx="488.0" cy="2184.4" r="9.1" fill="none" stroke="#e0362a" stroke-width="2.7"/>
<circle cx="501.6" cy="2185.4" r="9.1" fill="none" stroke="#e0362a" stroke-width="2.7"/>
<circle cx="518.9" cy="2185.4" r="9.1" fill="none" stroke="#e0362a" stroke-width="2.7"/>
<circle cx="491.9" cy="2201.0" r="9.1" fill="none" stroke="#e0362a" stroke-width="2.7"/>
<circle cx="508.4" cy="2197.1" r="9.1" fill="none" stroke="#e0362a" stroke-width="2.7"/>
<circle cx="464.9" cy="2199.0" r="9.1" fill="none" stroke="#e0362a" stroke-width="2.7"/>
<circle cx="442.8" cy="2192.2" r="9.1" fill="none" stroke="#e0362a" stroke-width="2.7"/>
<circle cx="1027.6" cy="1549.3" r="9.1" fill="none" stroke="#e0362a" stroke-width="2.7"/>
<circle cx="988.5" cy="1638.3" r="9.1" fill="none" stroke="#e0362a" stroke-width="2.7"/>
<circle cx="561.4" cy="1966.5" r="9.1" fill="none" stroke="#e0362a" stroke-width="2.7"/>
<circle cx="708.2" cy="2033.1" r="9.1" fill="none" stroke="#e0362a" stroke-width="2.7"/>
<circle cx="721.8" cy="2038.4" r="9.1" fill="none" stroke="#e0362a" stroke-width="2.7"/>
<circle cx="758.9" cy="2030.8" r="9.1" fill="none" stroke="#e0362a" stroke-width="2.7"/>
<circle cx="751.9" cy="2016.7" r="9.1" fill="none" stroke="#e0362a" stroke-width="2.7"/>
<circle cx="627.2" cy="2087.1" r="9.1" fill="none" stroke="#e0362a" stroke-width="2.7"/>
<circle cx="715.8" cy="2081.5" r="9.1" fill="none" stroke="#e0362a" stroke-width="2.7"/>
<circle cx="741.6" cy="2075.2" r="9.1" fill="none" stroke="#e0362a" stroke-width="2.7"/>
<circle cx="829.9" cy="1815.0" r="9.1" fill="none" stroke="#e0362a" stroke-width="2.7"/>
<circle cx="833.3" cy="1913.7" r="9.1" fill="none" stroke="#e0362a" stroke-width="2.7"/>
<circle cx="914.2" cy="1912.0" r="9.1" fill="none" stroke="#e0362a" stroke-width="2.7"/>
<circle cx="812.2" cy="1931.9" r="9.1" fill="none" stroke="#e0362a" stroke-width="2.7"/>
<circle cx="832.7" cy="1962.5" r="9.1" fill="none" stroke="#e0362a" stroke-width="2.7"/>
<circle cx="874.5" cy="1964.1" r="9.1" fill="none" stroke="#e0362a" stroke-width="2.7"/>
<circle cx="787.3" cy="1983.8" r="9.1" fill="none" stroke="#e0362a" stroke-width="2.7"/>
<circle cx="930.3" cy="2012.9" r="9.1" fill="none" stroke="#e0362a" stroke-width="2.7"/>
<circle cx="901.2" cy="2027.6" r="9.1" fill="none" stroke="#e0362a" stroke-width="2.7"/>
<circle cx="853.1" cy="2055.3" r="9.1" fill="none" stroke="#e0362a" stroke-width="2.7"/>
<circle cx="876.2" cy="2083.3" r="9.1" fill="none" stroke="#e0362a" stroke-width="2.7"/>
<circle cx="895.3" cy="2120.7" r="9.1" fill="none" stroke="#e0362a" stroke-width="2.7"/>
<circle cx="749.7" cy="2110.0" r="9.1" fill="none" stroke="#e0362a" stroke-width="2.7"/>
<circle cx="748.0" cy="2132.0" r="9.1" fill="none" stroke="#e0362a" stroke-width="2.7"/>
<circle cx="788.1" cy="2147.3" r="9.1" fill="none" stroke="#e0362a" stroke-width="2.7"/>
<circle cx="1088.2" cy="1969.0" r="9.1" fill="none" stroke="#e0362a" stroke-width="2.7"/>
<circle cx="1142.6" cy="1946.2" r="9.1" fill="none" stroke="#e0362a" stroke-width="2.7"/>
<circle cx="657.2" cy="2143.5" r="9.1" fill="none" stroke="#e0362a" stroke-width="2.7"/>
<circle cx="375.7" cy="1970.9" r="9.1" fill="none" stroke="#e0362a" stroke-width="2.7"/>
<circle cx="372.2" cy="1990.1" r="9.1" fill="none" stroke="#e0362a" stroke-width="2.7"/>
<circle cx="326.2" cy="2098.8" r="9.1" fill="none" stroke="#e0362a" stroke-width="2.7"/>
<circle cx="538.3" cy="2063.7" r="9.1" fill="none" stroke="#e0362a" stroke-width="2.7"/>
<circle cx="485.7" cy="2113.9" r="9.1" fill="none" stroke="#e0362a" stroke-width="2.7"/>
<circle cx="487.9" cy="2100.8" r="9.1" fill="none" stroke="#e0362a" stroke-width="2.7"/>
<circle cx="306.6" cy="2170.6" r="9.1" fill="none" stroke="#e0362a" stroke-width="2.7"/>
<circle cx="272.0" cy="2125.2" r="9.1" fill="none" stroke="#e0362a" stroke-width="2.7"/>
<circle cx="298.0" cy="2121.8" r="9.1" fill="none" stroke="#e0362a" stroke-width="2.7"/>
<circle cx="289.8" cy="2139.2" r="9.1" fill="none" stroke="#e0362a" stroke-width="2.7"/>
<circle cx="269.5" cy="2146.4" r="9.1" fill="none" stroke="#e0362a" stroke-width="2.7"/>
<circle cx="280.6" cy="2165.9" r="9.1" fill="none" stroke="#e0362a" stroke-width="2.7"/>
<circle cx="283.0" cy="2191.5" r="9.1" fill="none" stroke="#e0362a" stroke-width="2.7"/>
<circle cx="303.8" cy="2190.6" r="9.1" fill="none" stroke="#e0362a" stroke-width="2.7"/>
<circle cx="331.3" cy="2153.7" r="9.1" fill="none" stroke="#e0362a" stroke-width="2.7"/>
<circle cx="357.4" cy="2143.0" r="9.1" fill="none" stroke="#e0362a" stroke-width="2.7"/>
<circle cx="364.9" cy="2150.5" r="9.1" fill="none" stroke="#e0362a" stroke-width="2.7"/>
<circle cx="576.1" cy="1328.3" r="9.1" fill="none" stroke="#e0362a" stroke-width="2.7"/>
<circle cx="468.4" cy="1388.0" r="9.1" fill="none" stroke="#e0362a" stroke-width="2.7"/>
<circle cx="408.1" cy="1733.9" r="9.1" fill="none" stroke="#e0362a" stroke-width="2.7"/>
<circle cx="425.6" cy="1825.5" r="9.1" fill="none" stroke="#e0362a" stroke-width="2.7"/>
<circle cx="408.8" cy="1864.2" r="9.1" fill="none" stroke="#e0362a" stroke-width="2.7"/>
<circle cx="470.2" cy="1893.6" r="9.1" fill="none" stroke="#e0362a" stroke-width="2.7"/>
<circle cx="418.9" cy="1945.1" r="9.1" fill="none" stroke="#e0362a" stroke-width="2.7"/>
<circle cx="398.4" cy="1986.2" r="9.1" fill="none" stroke="#e0362a" stroke-width="2.7"/>
<circle cx="398.7" cy="2011.7" r="9.1" fill="none" stroke="#e0362a" stroke-width="2.7"/>
<circle cx="389.8" cy="2018.5" r="9.1" fill="none" stroke="#e0362a" stroke-width="2.7"/>
<circle cx="499.9" cy="2039.0" r="9.1" fill="none" stroke="#e0362a" stroke-width="2.7"/>
<circle cx="242.5" cy="2111.4" r="9.1" fill="none" stroke="#e0362a" stroke-width="2.7"/>
<circle cx="293.8" cy="2065.1" r="9.1" fill="none" stroke="#e0362a" stroke-width="2.7"/>
<circle cx="278.4" cy="2069.3" r="9.1" fill="none" stroke="#e0362a" stroke-width="2.7"/>
<circle cx="298.7" cy="2098.3" r="9.1" fill="none" stroke="#e0362a" stroke-width="2.7"/>
<circle cx="389.9" cy="2047.0" r="9.1" fill="none" stroke="#e0362a" stroke-width="2.7"/>
<circle cx="394.6" cy="2067.0" r="9.1" fill="none" stroke="#e0362a" stroke-width="2.7"/>
<circle cx="364.8" cy="2071.2" r="9.1" fill="none" stroke="#e0362a" stroke-width="2.7"/>
<circle cx="350.8" cy="2069.8" r="9.1" fill="none" stroke="#e0362a" stroke-width="2.7"/>
<circle cx="366.6" cy="2088.3" r="9.1" fill="none" stroke="#e0362a" stroke-width="2.7"/>
<circle cx="374.4" cy="2098.3" r="9.1" fill="none" stroke="#e0362a" stroke-width="2.7"/>
<circle cx="455.4" cy="2088.3" r="9.1" fill="none" stroke="#e0362a" stroke-width="2.7"/>
<circle cx="362.5" cy="2122.6" r="9.1" fill="none" stroke="#e0362a" stroke-width="2.7"/>
<circle cx="411.2" cy="2120.7" r="9.1" fill="none" stroke="#e0362a" stroke-width="2.7"/>
<circle cx="440.4" cy="2122.6" r="9.1" fill="none" stroke="#e0362a" stroke-width="2.7"/>
<circle cx="497.6" cy="2048.6" r="9.1" fill="none" stroke="#e0362a" stroke-width="2.7"/>
<circle cx="475.0" cy="2066.8" r="9.1" fill="none" stroke="#e0362a" stroke-width="2.7"/>
<circle cx="463.0" cy="2134.5" r="9.1" fill="none" stroke="#e0362a" stroke-width="2.7"/>
<circle cx="223.1" cy="2206.6" r="9.1" fill="none" stroke="#e0362a" stroke-width="2.7"/>
<circle cx="249.3" cy="2181.8" r="9.1" fill="none" stroke="#e0362a" stroke-width="2.7"/>
<circle cx="262.3" cy="2170.6" r="9.1" fill="none" stroke="#e0362a" stroke-width="2.7"/>
<circle cx="262.8" cy="2190.6" r="9.1" fill="none" stroke="#e0362a" stroke-width="2.7"/>
<circle cx="362.6" cy="2121.8" r="9.1" fill="none" stroke="#e0362a" stroke-width="2.7"/>
<circle cx="316.8" cy="2158.6" r="9.1" fill="none" stroke="#e0362a" stroke-width="2.7"/>
<circle cx="308.6" cy="2177.0" r="9.1" fill="none" stroke="#e0362a" stroke-width="2.7"/>
<circle cx="333.3" cy="2142.6" r="9.1" fill="none" stroke="#e0362a" stroke-width="2.7"/>
<circle cx="345.3" cy="2149.8" r="9.1" fill="none" stroke="#e0362a" stroke-width="2.7"/>
<circle cx="363.1" cy="2156.6" r="9.1" fill="none" stroke="#e0362a" stroke-width="2.7"/>
<circle cx="328.4" cy="2177.4" r="9.1" fill="none" stroke="#e0362a" stroke-width="2.7"/>
<circle cx="354.4" cy="2165.4" r="9.1" fill="none" stroke="#e0362a" stroke-width="2.7"/>
<circle cx="343.9" cy="2169.7" r="9.1" fill="none" stroke="#e0362a" stroke-width="2.7"/>
<circle cx="354.0" cy="2183.8" r="9.1" fill="none" stroke="#e0362a" stroke-width="2.7"/>
<circle cx="333.6" cy="2198.3" r="9.1" fill="none" stroke="#e0362a" stroke-width="2.7"/>
<circle cx="387.2" cy="2130.6" r="9.1" fill="none" stroke="#e0362a" stroke-width="2.7"/>
<circle cx="394.9" cy="2146.6" r="9.1" fill="none" stroke="#e0362a" stroke-width="2.7"/>
<circle cx="391.0" cy="2159.8" r="9.1" fill="none" stroke="#e0362a" stroke-width="2.7"/>
<circle cx="412.7" cy="2167.4" r="9.1" fill="none" stroke="#e0362a" stroke-width="2.7"/>
<circle cx="387.2" cy="2172.8" r="9.1" fill="none" stroke="#e0362a" stroke-width="2.7"/>
<circle cx="397.8" cy="2183.5" r="9.1" fill="none" stroke="#e0362a" stroke-width="2.7"/>
<circle cx="452.8" cy="2183.5" r="9.1" fill="none" stroke="#e0362a" stroke-width="2.7"/>
<circle cx="411.3" cy="2205.8" r="9.1" fill="none" stroke="#e0362a" stroke-width="2.7"/>
<circle cx="385.2" cy="2209.6" r="9.1" fill="none" stroke="#e0362a" stroke-width="2.7"/>
<circle cx="327.8" cy="2188.1" r="9.1" fill="none" stroke="#e0362a" stroke-width="2.7"/>
<circle cx="328.9" cy="2178.2" r="9.1" fill="none" stroke="#e0362a" stroke-width="2.7"/>
<circle cx="303.5" cy="2179.4" r="9.1" fill="none" stroke="#e0362a" stroke-width="2.7"/>
<circle cx="377.0" cy="2187.1" r="9.1" fill="none" stroke="#e0362a" stroke-width="2.7"/>
<circle cx="374.3" cy="2185.0" r="9.1" fill="none" stroke="#e0362a" stroke-width="2.7"/>
<circle cx="351.2" cy="2184.2" r="9.1" fill="none" stroke="#e0362a" stroke-width="2.7"/>
<circle cx="277.0" cy="2192.3" r="9.1" fill="none" stroke="#e0362a" stroke-width="2.7"/>
<circle cx="355.2" cy="2188.0" r="9.1" fill="none" stroke="#e0362a" stroke-width="2.7"/>
<circle cx="276.1" cy="2161.1" r="9.1" fill="none" stroke="#e0362a" stroke-width="2.7"/>
<circle cx="305.0" cy="2176.4" r="9.1" fill="none" stroke="#e0362a" stroke-width="2.7"/>
<circle cx="348.0" cy="2181.4" r="9.1" fill="none" stroke="#e0362a" stroke-width="2.7"/>
<circle cx="355.8" cy="2174.3" r="9.1" fill="none" stroke="#e0362a" stroke-width="2.7"/>
<circle cx="348.1" cy="2186.7" r="9.1" fill="none" stroke="#e0362a" stroke-width="2.7"/>
<circle cx="313.2" cy="2202.6" r="9.1" fill="none" stroke="#e0362a" stroke-width="2.7"/>
<circle cx="357.0" cy="2196.4" r="9.1" fill="none" stroke="#e0362a" stroke-width="2.7"/>
<circle cx="314.7" cy="2173.1" r="9.1" fill="none" stroke="#e0362a" stroke-width="2.7"/>
<circle cx="324.6" cy="2180.7" r="9.1" fill="none" stroke="#e0362a" stroke-width="2.7"/>
<circle cx="359.8" cy="2185.0" r="9.1" fill="none" stroke="#e0362a" stroke-width="2.7"/>
<circle cx="320.9" cy="2170.5" r="9.1" fill="none" stroke="#e0362a" stroke-width="2.7"/>
<circle cx="318.3" cy="2196.7" r="9.1" fill="none" stroke="#e0362a" stroke-width="2.7"/>
<circle cx="307.9" cy="2184.9" r="9.1" fill="none" stroke="#e0362a" stroke-width="2.7"/>
<circle cx="352.4" cy="2164.1" r="9.1" fill="none" stroke="#e0362a" stroke-width="2.7"/>
<circle cx="338.7" cy="2197.7" r="9.1" fill="none" stroke="#e0362a" stroke-width="2.7"/>
<circle cx="264.5" cy="2178.1" r="9.1" fill="none" stroke="#e0362a" stroke-width="2.7"/>
<circle cx="333.2" cy="2172.2" r="9.1" fill="none" stroke="#e0362a" stroke-width="2.7"/>
<circle cx="354.9" cy="2181.3" r="9.1" fill="none" stroke="#e0362a" stroke-width="2.7"/>
<circle cx="284.3" cy="2191.9" r="9.1" fill="none" stroke="#e0362a" stroke-width="2.7"/>
<circle cx="361.1" cy="2193.4" r="9.1" fill="none" stroke="#e0362a" stroke-width="2.7"/>
<circle cx="388.9" cy="2186.3" r="9.1" fill="none" stroke="#e0362a" stroke-width="2.7"/>
<circle cx="341.3" cy="2166.4" r="9.1" fill="none" stroke="#e0362a" stroke-width="2.7"/>
<circle cx="359.2" cy="2174.7" r="9.1" fill="none" stroke="#e0362a" stroke-width="2.7"/>
<circle cx="320.7" cy="2166.8" r="9.1" fill="none" stroke="#e0362a" stroke-width="2.7"/>
<circle cx="302.2" cy="2175.6" r="9.1" fill="none" stroke="#e0362a" stroke-width="2.7"/>
<circle cx="383.4" cy="2157.6" r="9.1" fill="none" stroke="#e0362a" stroke-width="2.7"/>
<circle cx="284.5" cy="2184.9" r="9.1" fill="none" stroke="#e0362a" stroke-width="2.7"/>
<circle cx="389.0" cy="2188.9" r="9.1" fill="none" stroke="#e0362a" stroke-width="2.7"/>
<circle cx="349.9" cy="2173.2" r="9.1" fill="none" stroke="#e0362a" stroke-width="2.7"/>
<circle cx="296.7" cy="2193.7" r="9.1" fill="none" stroke="#e0362a" stroke-width="2.7"/>
<circle cx="376.7" cy="2183.9" r="9.1" fill="none" stroke="#e0362a" stroke-width="2.7"/>
<circle cx="345.8" cy="2187.2" r="9.1" fill="none" stroke="#e0362a" stroke-width="2.7"/>
<circle cx="394.4" cy="2189.4" r="9.1" fill="none" stroke="#e0362a" stroke-width="2.7"/>
<circle cx="355.7" cy="2188.6" r="9.1" fill="none" stroke="#e0362a" stroke-width="2.7"/>
<circle cx="280.5" cy="2197.4" r="9.1" fill="none" stroke="#e0362a" stroke-width="2.7"/>
<circle cx="371.4" cy="2188.4" r="9.1" fill="none" stroke="#e0362a" stroke-width="2.7"/>
<circle cx="265.9" cy="2174.4" r="9.1" fill="none" stroke="#e0362a" stroke-width="2.7"/>
<circle cx="367.3" cy="2160.3" r="9.1" fill="none" stroke="#e0362a" stroke-width="2.7"/>
<circle cx="330.4" cy="2194.2" r="9.1" fill="none" stroke="#e0362a" stroke-width="2.7"/>
<circle cx="289.8" cy="2201.3" r="9.1" fill="none" stroke="#e0362a" stroke-width="2.7"/>
<circle cx="356.9" cy="2180.2" r="9.1" fill="none" stroke="#e0362a" stroke-width="2.7"/>
<circle cx="348.7" cy="2189.8" r="9.1" fill="none" stroke="#e0362a" stroke-width="2.7"/>
<circle cx="341.3" cy="2195.7" r="9.1" fill="none" stroke="#e0362a" stroke-width="2.7"/>
<circle cx="313.2" cy="2177.0" r="9.1" fill="none" stroke="#e0362a" stroke-width="2.7"/>
<circle cx="374.5" cy="2182.3" r="9.1" fill="none" stroke="#e0362a" stroke-width="2.7"/>
<circle cx="305.3" cy="2193.4" r="9.1" fill="none" stroke="#e0362a" stroke-width="2.7"/>
<circle cx="389.8" cy="2176.7" r="9.1" fill="none" stroke="#e0362a" stroke-width="2.7"/>
<circle cx="287.3" cy="2180.4" r="9.1" fill="none" stroke="#e0362a" stroke-width="2.7"/>
<circle cx="331.6" cy="2178.4" r="9.1" fill="none" stroke="#e0362a" stroke-width="2.7"/>
<circle cx="387.6" cy="2169.7" r="9.1" fill="none" stroke="#e0362a" stroke-width="2.7"/>
<circle cx="382.4" cy="2166.8" r="9.1" fill="none" stroke="#e0362a" stroke-width="2.7"/>
<circle cx="308.7" cy="2189.6" r="9.1" fill="none" stroke="#e0362a" stroke-width="2.7"/>
<circle cx="377.6" cy="2192.3" r="9.1" fill="none" stroke="#e0362a" stroke-width="2.7"/>
<circle cx="349.4" cy="2183.7" r="9.1" fill="none" stroke="#e0362a" stroke-width="2.7"/>
<circle cx="342.5" cy="2188.9" r="9.1" fill="none" stroke="#e0362a" stroke-width="2.7"/>
<circle cx="330.7" cy="2185.3" r="9.1" fill="none" stroke="#e0362a" stroke-width="2.7"/>
<circle cx="357.6" cy="2182.0" r="9.1" fill="none" stroke="#e0362a" stroke-width="2.7"/>
<circle cx="364.5" cy="2188.8" r="9.1" fill="none" stroke="#e0362a" stroke-width="2.7"/>
<circle cx="409.4" cy="2185.9" r="9.1" fill="none" stroke="#e0362a" stroke-width="2.7"/>
<circle cx="321.6" cy="2177.5" r="9.1" fill="none" stroke="#e0362a" stroke-width="2.7"/>
<circle cx="336.5" cy="2193.1" r="9.1" fill="none" stroke="#e0362a" stroke-width="2.7"/>
<circle cx="324.9" cy="2186.6" r="9.1" fill="none" stroke="#e0362a" stroke-width="2.7"/>
<circle cx="296.5" cy="2184.9" r="9.1" fill="none" stroke="#e0362a" stroke-width="2.7"/>
<circle cx="351.3" cy="2184.9" r="9.1" fill="none" stroke="#e0362a" stroke-width="2.7"/>
<circle cx="321.5" cy="2189.9" r="9.1" fill="none" stroke="#e0362a" stroke-width="2.7"/>
<circle cx="347.2" cy="2175.7" r="9.1" fill="none" stroke="#e0362a" stroke-width="2.7"/>
<circle cx="317.0" cy="2180.8" r="9.1" fill="none" stroke="#e0362a" stroke-width="2.7"/>
<circle cx="328.9" cy="2181.2" r="9.1" fill="none" stroke="#e0362a" stroke-width="2.7"/>
<circle cx="373.3" cy="2168.0" r="9.1" fill="none" stroke="#e0362a" stroke-width="2.7"/>
<circle cx="334.6" cy="2193.4" r="9.1" fill="none" stroke="#e0362a" stroke-width="2.7"/>
<circle cx="367.8" cy="2199.9" r="9.1" fill="none" stroke="#e0362a" stroke-width="2.7"/>
<circle cx="275.7" cy="2177.8" r="9.1" fill="none" stroke="#e0362a" stroke-width="2.7"/>
<circle cx="324.7" cy="2189.5" r="9.1" fill="none" stroke="#e0362a" stroke-width="2.7"/>
<circle cx="376.2" cy="2164.6" r="9.1" fill="none" stroke="#e0362a" stroke-width="2.7"/>
<circle cx="361.6" cy="2164.1" r="9.1" fill="none" stroke="#e0362a" stroke-width="2.7"/>
<circle cx="343.3" cy="2196.3" r="9.1" fill="none" stroke="#e0362a" stroke-width="2.7"/>
<circle cx="331.6" cy="2184.3" r="9.1" fill="none" stroke="#e0362a" stroke-width="2.7"/>
<circle cx="365.7" cy="2183.7" r="9.1" fill="none" stroke="#e0362a" stroke-width="2.7"/>
<circle cx="333.8" cy="2200.4" r="9.1" fill="none" stroke="#e0362a" stroke-width="2.7"/>
<circle cx="374.7" cy="2178.5" r="9.1" fill="none" stroke="#e0362a" stroke-width="2.7"/>
<circle cx="369.9" cy="2178.8" r="9.1" fill="none" stroke="#e0362a" stroke-width="2.7"/>
<circle cx="341.8" cy="2190.5" r="9.1" fill="none" stroke="#e0362a" stroke-width="2.7"/>
<circle cx="345.0" cy="2189.7" r="9.1" fill="none" stroke="#e0362a" stroke-width="2.7"/>
<circle cx="282.0" cy="2163.9" r="9.1" fill="none" stroke="#e0362a" stroke-width="2.7"/>
<circle cx="359.1" cy="2170.4" r="9.1" fill="none" stroke="#e0362a" stroke-width="2.7"/>
<circle cx="300.0" cy="2164.4" r="9.1" fill="none" stroke="#e0362a" stroke-width="2.7"/>
<circle cx="382.6" cy="2191.0" r="9.1" fill="none" stroke="#e0362a" stroke-width="2.7"/>
<circle cx="390.0" cy="2170.7" r="9.1" fill="none" stroke="#e0362a" stroke-width="2.7"/>
<circle cx="337.0" cy="2168.3" r="9.1" fill="none" stroke="#e0362a" stroke-width="2.7"/>
<circle cx="364.6" cy="2201.1" r="9.1" fill="none" stroke="#e0362a" stroke-width="2.7"/>
<circle cx="305.0" cy="2200.7" r="9.1" fill="none" stroke="#e0362a" stroke-width="2.7"/>
<circle cx="633.2" cy="2180.0" r="9.1" fill="none" stroke="#e0362a" stroke-width="2.7"/>
<circle cx="627.2" cy="2194.2" r="9.1" fill="none" stroke="#e0362a" stroke-width="2.7"/>
<circle cx="574.0" cy="2190.5" r="9.1" fill="none" stroke="#e0362a" stroke-width="2.7"/>
<circle cx="436.3" cy="2192.6" r="9.1" fill="none" stroke="#e0362a" stroke-width="2.7"/>
<circle cx="617.2" cy="2190.0" r="9.1" fill="none" stroke="#e0362a" stroke-width="2.7"/>
<circle cx="598.4" cy="2182.7" r="9.1" fill="none" stroke="#e0362a" stroke-width="2.7"/>
<circle cx="635.3" cy="2182.9" r="9.1" fill="none" stroke="#e0362a" stroke-width="2.7"/>
<circle cx="531.7" cy="2180.2" r="9.1" fill="none" stroke="#e0362a" stroke-width="2.7"/>
<circle cx="431.4" cy="2214.5" r="9.1" fill="none" stroke="#e0362a" stroke-width="2.7"/>
<circle cx="555.9" cy="2190.4" r="9.1" fill="none" stroke="#e0362a" stroke-width="2.7"/>
<circle cx="526.4" cy="2197.8" r="9.1" fill="none" stroke="#e0362a" stroke-width="2.7"/>
<circle cx="609.2" cy="2183.7" r="9.1" fill="none" stroke="#e0362a" stroke-width="2.7"/>
<circle cx="598.3" cy="2189.8" r="9.1" fill="none" stroke="#e0362a" stroke-width="2.7"/>
<circle cx="470.3" cy="2195.4" r="9.1" fill="none" stroke="#e0362a" stroke-width="2.7"/>
<circle cx="457.7" cy="2181.4" r="9.1" fill="none" stroke="#e0362a" stroke-width="2.7"/>
<circle cx="500.6" cy="2184.0" r="9.1" fill="none" stroke="#e0362a" stroke-width="2.7"/>
<circle cx="431.5" cy="2195.9" r="9.1" fill="none" stroke="#e0362a" stroke-width="2.7"/>
<circle cx="510.0" cy="2183.0" r="9.1" fill="none" stroke="#e0362a" stroke-width="2.7"/>
<circle cx="540.0" cy="2196.6" r="9.1" fill="none" stroke="#e0362a" stroke-width="2.7"/>
<circle cx="620.3" cy="2182.1" r="9.1" fill="none" stroke="#e0362a" stroke-width="2.7"/>
<circle cx="520.4" cy="2176.1" r="9.1" fill="none" stroke="#e0362a" stroke-width="2.7"/>
<circle cx="404.5" cy="2185.6" r="9.1" fill="none" stroke="#e0362a" stroke-width="2.7"/>
<circle cx="505.6" cy="2188.4" r="9.1" fill="none" stroke="#e0362a" stroke-width="2.7"/>
<circle cx="591.8" cy="2188.8" r="9.1" fill="none" stroke="#e0362a" stroke-width="2.7"/>
<circle cx="441.4" cy="2172.1" r="9.1" fill="none" stroke="#e0362a" stroke-width="2.7"/>
<circle cx="533.6" cy="2190.7" r="9.1" fill="none" stroke="#e0362a" stroke-width="2.7"/>
<circle cx="478.2" cy="2175.4" r="9.1" fill="none" stroke="#e0362a" stroke-width="2.7"/>
<circle cx="588.2" cy="2186.5" r="9.1" fill="none" stroke="#e0362a" stroke-width="2.7"/>
<circle cx="425.5" cy="2181.0" r="9.1" fill="none" stroke="#e0362a" stroke-width="2.7"/>
<circle cx="466.5" cy="2185.2" r="9.1" fill="none" stroke="#e0362a" stroke-width="2.7"/>
<circle cx="420.3" cy="2193.9" r="9.1" fill="none" stroke="#e0362a" stroke-width="2.7"/>
<circle cx="346.6" cy="2208.3" r="9.1" fill="none" stroke="#e0362a" stroke-width="2.7"/>
<circle cx="469.4" cy="2190.3" r="9.1" fill="none" stroke="#e0362a" stroke-width="2.7"/>
<circle cx="364.4" cy="2193.8" r="9.1" fill="none" stroke="#e0362a" stroke-width="2.7"/>
<circle cx="329.3" cy="2204.5" r="9.1" fill="none" stroke="#e0362a" stroke-width="2.7"/>
<circle cx="308.3" cy="2195.4" r="9.1" fill="none" stroke="#e0362a" stroke-width="2.7"/>
<circle cx="317.3" cy="2218.7" r="9.1" fill="none" stroke="#e0362a" stroke-width="2.7"/>
<circle cx="394.7" cy="2215.0" r="9.1" fill="none" stroke="#e0362a" stroke-width="2.7"/>
<circle cx="479.8" cy="2179.8" r="9.1" fill="none" stroke="#e0362a" stroke-width="2.7"/>
<circle cx="345.8" cy="2218.8" r="9.1" fill="none" stroke="#e0362a" stroke-width="2.7"/>
<circle cx="444.0" cy="2172.8" r="9.1" fill="none" stroke="#e0362a" stroke-width="2.7"/>
<circle cx="192.6" cy="2197.7" r="9.1" fill="none" stroke="#e0362a" stroke-width="2.7"/>
<circle cx="234.2" cy="2212.1" r="9.1" fill="none" stroke="#e0362a" stroke-width="2.7"/>
<circle cx="424.4" cy="2216.1" r="9.1" fill="none" stroke="#e0362a" stroke-width="2.7"/>
<circle cx="204.1" cy="2211.8" r="9.1" fill="none" stroke="#e0362a" stroke-width="2.7"/>
<circle cx="200.0" cy="2219.2" r="9.1" fill="none" stroke="#e0362a" stroke-width="2.7"/>
<circle cx="226.9" cy="2205.6" r="9.1" fill="none" stroke="#e0362a" stroke-width="2.7"/>
<circle cx="320.5" cy="2221.4" r="9.1" fill="none" stroke="#e0362a" stroke-width="2.7"/>
<circle cx="441.4" cy="2174.2" r="9.1" fill="none" stroke="#e0362a" stroke-width="2.7"/>
<circle cx="301.0" cy="2194.4" r="9.1" fill="none" stroke="#e0362a" stroke-width="2.7"/>
<circle cx="268.7" cy="2176.2" r="9.1" fill="none" stroke="#e0362a" stroke-width="2.7"/>
<circle cx="261.5" cy="2206.2" r="9.1" fill="none" stroke="#e0362a" stroke-width="2.7"/>
<circle cx="156.8" cy="2206.6" r="9.1" fill="none" stroke="#e0362a" stroke-width="2.7"/>
<circle cx="156.3" cy="2211.0" r="9.1" fill="none" stroke="#e0362a" stroke-width="2.7"/>
<circle cx="329.3" cy="2168.7" r="9.1" fill="none" stroke="#e0362a" stroke-width="2.7"/>
<circle cx="494.8" cy="2209.9" r="9.1" fill="none" stroke="#e0362a" stroke-width="2.7"/>
<circle cx="490.1" cy="2171.0" r="9.1" fill="none" stroke="#e0362a" stroke-width="2.7"/>
<circle cx="242.9" cy="2214.7" r="9.1" fill="none" stroke="#e0362a" stroke-width="2.7"/>
<circle cx="244.7" cy="2206.1" r="9.1" fill="none" stroke="#e0362a" stroke-width="2.7"/>
<circle cx="469.0" cy="2211.7" r="9.1" fill="none" stroke="#e0362a" stroke-width="2.7"/>
<circle cx="240.5" cy="2218.1" r="9.1" fill="none" stroke="#e0362a" stroke-width="2.7"/>
<circle cx="349.7" cy="2204.9" r="9.1" fill="none" stroke="#e0362a" stroke-width="2.7"/>
<circle cx="181.3" cy="2212.5" r="9.1" fill="none" stroke="#e0362a" stroke-width="2.7"/>
<circle cx="298.9" cy="2169.1" r="9.1" fill="none" stroke="#e0362a" stroke-width="2.7"/>
<circle cx="478.4" cy="2201.2" r="9.1" fill="none" stroke="#e0362a" stroke-width="2.7"/>
<circle cx="430.6" cy="2169.8" r="9.1" fill="none" stroke="#e0362a" stroke-width="2.7"/>
<circle cx="449.7" cy="2168.8" r="9.1" fill="none" stroke="#e0362a" stroke-width="2.7"/>
<circle cx="452.0" cy="2190.9" r="9.1" fill="none" stroke="#e0362a" stroke-width="2.7"/>
<circle cx="268.7" cy="2196.5" r="9.1" fill="none" stroke="#e0362a" stroke-width="2.7"/>
<circle cx="474.3" cy="2180.3" r="9.1" fill="none" stroke="#e0362a" stroke-width="2.7"/>
<line x1="137" y1="2225.8" x2="145" y2="2225.8" stroke="#111" stroke-width="3.4"/>
<text x="123.3" y="2238.8" font-size="36" text-anchor="end">0</text>
<line x1="137" y1="2106.3" x2="145" y2="2106.3" stroke="#111" stroke-width="3.4"/>
<text x="123.3" y="2119.0" font-size="36" text-anchor="end">200</text>
<line x1="137" y1="1986.8" x2="145" y2="1986.8" stroke="#111" stroke-width="3.4"/>
<text x="123.3" y="1999.2" font-size="36" text-anchor="end">400</text>
<line x1="137" y1="1867.3" x2="145" y2="1867.3" stroke="#111" stroke-width="3.4"/>
<text x="123.3" y="1879.4" font-size="36" text-anchor="end">600</text>
<line x1="137" y1="1747.8" x2="145" y2="1747.8" stroke="#111" stroke-width="3.4"/>
<text x="123.3" y="1759.6" font-size="36" text-anchor="end">800</text>
<line x1="137" y1="1628.3" x2="145" y2="1628.3" stroke="#111" stroke-width="3.4"/>
<text x="123.3" y="1639.8" font-size="36" text-anchor="end">1000</text>
<line x1="137" y1="1508.9" x2="145" y2="1508.9" stroke="#111" stroke-width="3.4"/>
<text x="123.3" y="1520.1" font-size="36" text-anchor="end">1200</text>
<line x1="137" y1="1389.4" x2="145" y2="1389.4" stroke="#111" stroke-width="3.4"/>
<text x="123.3" y="1400.3" font-size="36" text-anchor="end">1400</text>
<line x1="137" y1="1269.9" x2="145" y2="1269.9" stroke="#111" stroke-width="3.4"/>
<text x="123.3" y="1280.5" font-size="36" text-anchor="end">1600</text>
<line x1="143.7" y1="2226.7" x2="143.7" y2="2238.4" stroke="#111" stroke-width="3.4"/>
<text x="141.9" y="2277.4" font-size="36" text-anchor="middle">0</text>
<line x1="298.3" y1="2226.7" x2="298.3" y2="2238.4" stroke="#111" stroke-width="3.4"/>
<text x="297.0" y="2277.4" font-size="36" text-anchor="middle">1</text>
<line x1="452.9" y1="2226.7" x2="452.9" y2="2238.4" stroke="#111" stroke-width="3.4"/>
<text x="451.6" y="2277.4" font-size="36" text-anchor="middle">2</text>
<line x1="607.5" y1="2226.7" x2="607.5" y2="2238.4" stroke="#111" stroke-width="3.4"/>
<text x="606.2" y="2277.4" font-size="36" text-anchor="middle">3</text>
<line x1="762.1" y1="2226.7" x2="762.1" y2="2238.4" stroke="#111" stroke-width="3.4"/>
<text x="760.8" y="2277.4" font-size="36" text-anchor="middle">4</text>
<line x1="916.7" y1="2226.7" x2="916.7" y2="2238.4" stroke="#111" stroke-width="3.4"/>
<text x="915.4" y="2277.4" font-size="36" text-anchor="middle">5</text>
<line x1="1071.3" y1="2226.7" x2="1071.3" y2="2238.4" stroke="#111" stroke-width="3.4"/>
<text x="1070.0" y="2277.4" font-size="36" text-anchor="middle">6</text>
<line x1="1225.9" y1="2226.7" x2="1225.9" y2="2238.4" stroke="#111" stroke-width="3.4"/>
<text x="1224.6" y="2277.4" font-size="36" text-anchor="middle">7</text>
<text x="686.4" y="2332.5" font-size="36" text-anchor="middle">TOC (wt%)</text>
<text transform="translate(27,1733.4) rotate(-90)" font-size="36" text-anchor="middle">Hg (ppb)</text>
<rect x="755.8" y="1266" width="472" height="177" fill="#fff"/>
<path d="M755.8 1266V1443H1221.4" fill="none" stroke="#111" stroke-width="3.6"/>
<circle cx="792.0" cy="1296.7" r="10.5" fill="none" stroke="#e0362a" stroke-width="2.8"/>
<circle cx="792.1" cy="1333.4" r="10.9" fill="#7a7c7b"/>
<text x="814.8" y="1307.9" font-size="29.3">All E-8X and 22/10a-4 data</text>
<text x="814.8" y="1344.5" font-size="29.3">Svalbard, Denmark,</text>
<text x="814.8" y="1380" font-size="29.3">Lomonosov Ridge and Bass</text>
<text x="814.8" y="1414.8" font-size="29.3">River data</text>
<rect x="145" y="1266.2" width="1082.8" height="960.5" fill="none" stroke="#111" stroke-width="3.5"/>
<text x="2.2" y="1227.5" font-size="65" font-weight="bold">b</text>
</svg></body></html>
